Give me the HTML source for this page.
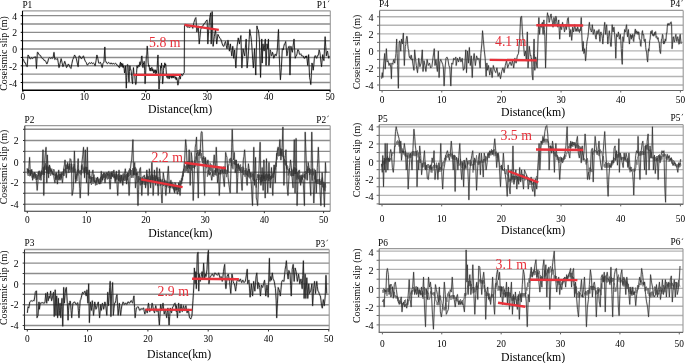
<!DOCTYPE html>
<html><head><meta charset="utf-8"><style>
html,body{margin:0;padding:0;background:#fff;width:685px;height:363px;overflow:hidden}
svg{display:block;font-family:"Liberation Serif",serif}
</style></head><body>
<svg width="685" height="363" viewBox="0 0 685 363" font-family="Liberation Serif, serif" fill="#000">
<defs><filter id="bl" x="0" y="0" width="100%" height="100%"><feGaussianBlur stdDeviation="0.35"/></filter></defs><g filter="url(#bl)"><rect width="685" height="363" fill="#fff"/><line x1="22.5" y1="82.53" x2="330.3" y2="82.53" stroke="#8c8c8c" stroke-width="1.4"/>
<line x1="20.7" y1="82.53" x2="22.5" y2="82.53" stroke="#000" stroke-width="1"/>
<line x1="22.5" y1="74.16" x2="330.3" y2="74.16" stroke="#8c8c8c" stroke-width="1.4"/>
<line x1="20.7" y1="74.16" x2="22.5" y2="74.16" stroke="#000" stroke-width="1"/>
<line x1="22.5" y1="65.8" x2="330.3" y2="65.8" stroke="#8c8c8c" stroke-width="1.4"/>
<line x1="20.7" y1="65.8" x2="22.5" y2="65.8" stroke="#000" stroke-width="1"/>
<line x1="22.5" y1="57.44" x2="330.3" y2="57.44" stroke="#8c8c8c" stroke-width="1.4"/>
<line x1="20.7" y1="57.44" x2="22.5" y2="57.44" stroke="#000" stroke-width="1"/>
<line x1="22.5" y1="49.07" x2="330.3" y2="49.07" stroke="#8c8c8c" stroke-width="1.4"/>
<line x1="20.7" y1="49.07" x2="22.5" y2="49.07" stroke="#000" stroke-width="1"/>
<line x1="22.5" y1="40.7" x2="330.3" y2="40.7" stroke="#8c8c8c" stroke-width="1.4"/>
<line x1="20.7" y1="40.7" x2="22.5" y2="40.7" stroke="#000" stroke-width="1"/>
<line x1="22.5" y1="32.34" x2="330.3" y2="32.34" stroke="#8c8c8c" stroke-width="1.4"/>
<line x1="20.7" y1="32.34" x2="22.5" y2="32.34" stroke="#000" stroke-width="1"/>
<line x1="22.5" y1="23.98" x2="330.3" y2="23.98" stroke="#8c8c8c" stroke-width="1.4"/>
<line x1="20.7" y1="23.98" x2="22.5" y2="23.98" stroke="#000" stroke-width="1"/>
<line x1="22.5" y1="15.61" x2="330.3" y2="15.61" stroke="#8c8c8c" stroke-width="1.4"/>
<line x1="20.7" y1="15.61" x2="22.5" y2="15.61" stroke="#000" stroke-width="1"/>
<line x1="22.5" y1="10.85" x2="330.3" y2="10.85" stroke="#9a9a9a" stroke-width="1.3"/>
<line x1="330.3" y1="10.85" x2="330.3" y2="90.3" stroke="#9a9a9a" stroke-width="1.1"/>
<path d="M22.68 58.62 L23.58 59.92 L24.47 62.56 L25.37 62.78 L26.26 65.45 L27.16 66.67 L28.05 55.04 L28.94 56.32 L29.84 58.62 L30.73 58.89 L31.63 57.57 L32.52 58.63 L33.42 57.73 L34.19 57.14 L34.97 57.39 L35.74 56.83 L36.46 68.46 L37.35 52.36 L38.13 52.55 L38.9 54.63 L39.68 55.04 L40.57 55.57 L41.47 57.67 L42.36 58.62 L43.26 58.73 L44.15 60.46 L45.04 60.41 L45.94 61.83 L46.83 63.99 L47.73 62.08 L48.62 58.62 L49.52 57.7 L50.41 58.52 L51.31 57.83 L52.2 58.45 L53.09 57.73 L53.99 52.36 L54.88 59.52 L55.78 58.45 L56.67 59.37 L57.57 58.62 L58.28 62.73 L59 67.57 L60.07 63.57 L61.14 58.62 L62.04 62.39 L62.93 66.67 L63.83 64.35 L64.72 61.31 L65.62 63.95 L66.51 67.57 L67.41 66.3 L68.3 63.99 L69.19 65.11 L70.09 67.34 L70.98 68.46 L71.88 63.63 L72.77 59.52 L73.67 57.78 L74.56 55.04 L75.46 56.43 L76.35 58.62 L77.25 62.9 L78.14 66.67 L79.03 55.94 L79.93 56.12 L80.82 58.28 L81.72 58.62 L82.61 56.68 L83.51 55.94 L84.4 58.97 L85.3 61.31 L86.19 62.3 L87.08 64.88 L87.98 64.71 L88.87 63.09 L89.77 62.79 L90.66 63.52 L91.56 62.45 L92.45 63.73 L93.35 63.09 L94.24 63.67 L95.13 65.78 L96.03 60.89 L96.92 55.04 L97.82 58.36 L98.71 63.09 L99.54 63.26 L100.37 62.2 L101.26 64.47 L102.16 67.57 L103.05 63.09 L103.94 62.2 L104.84 46.99 L105.38 60.41 L106.63 63.09 L107.52 63.66 L108.42 62.36 L109.31 63.09 L110.21 63.94 L111.1 62.84 L111.99 64.07 L112.89 63.63 L113.78 63.46 L114.68 64.19 L115.57 63.21 L116.47 63.99 L117.36 65.65 L118.26 66.04 L119.15 67.57 L119.6 67.56 L120.04 63.99 L120.49 62.15 L120.94 66.44 L121.39 63.2 L121.83 64.88 L122.28 66.69 L122.73 63.63 L123.18 67.75 L123.62 65.78 L124.07 67.63 L124.52 72.93 L124.96 70.85 L125.41 65.78 L125.86 75.29 L126.31 88.14 L126.75 77.35 L127.2 64.88 L127.65 64.47 L128.09 65.78 L128.54 75.89 L128.99 81.88 L129.44 71.26 L129.88 65.78 L130.33 69.43 L130.78 69.36 L131.23 71.44 L131.67 76.51 L132.12 81.18 L132.57 83.67 L133.01 73.92 L133.46 67.57 L133.91 73.71 L134.36 74.72 L134.8 76.12 L135.25 81.88 L135.7 84.53 L136.14 83.67 L136.59 72.38 L137.04 65.78 L137.49 67.88 L137.93 67.57 L138.38 64.96 L138.83 65.78 L139.28 66.5 L139.72 62.2 L140.17 61.71 L140.62 64.88 L141.03 63.52 L141.45 57.65 L141.87 55.94 L142.41 63.53 L142.94 67.57 L143.36 62.96 L143.78 64.18 L144.19 61.31 L144.64 70.28 L145.09 83.67 L145.54 76.1 L145.98 63.99 L146.4 55.63 L146.82 54.19 L147.24 46.1 L147.68 51.9 L148.13 62.2 L148.61 66.31 L149.08 65.17 L149.56 69.36 L150.01 70.69 L150.46 68.03 L150.9 71.05 L151.35 68.46 L151.8 67.31 L152.25 70.95 L152.69 68.78 L153.14 71.14 L153.59 72.81 L154.03 69.72 L154.48 72.55 L154.93 71.14 L155.38 69.83 L155.82 73.95 L156.27 70.59 L156.72 72.93 L157.13 68.58 L157.55 60.18 L157.97 55.04 L158.51 73.24 L159.04 89.03 L159.46 81.97 L159.88 78.95 L160.3 71.14 L160.71 66.11 L161.13 68.01 L161.55 63.09 L162.08 71.15 L162.62 83.67 L163.04 79.97 L163.46 70.5 L163.87 65.78 L164.32 67.64 L164.77 62.88 L165.21 65.37 L165.66 63.99 L166.11 69.44 L166.56 76.51 L167 77.54 L167.45 74.8 L167.9 78.42 L168.35 77.41 L168.79 76.2 L169.24 78.88 L169.69 75.33 L170.13 76.51 L170.65 77.39 L171.17 75.39 L171.69 78.17 L172.2 75.32 L172.72 77.65 L173.24 74.27 L173.76 77.93 L174.27 74.93 L174.79 76.26 L175.27 78.62 L175.75 76.88 L176.23 79.9 L176.71 77.59 L177.19 79.86 L177.9 85.13 L178.5 82.42 L179.1 77.46 L179.66 76.08 L180.22 79.08 L180.78 76.26 L181.38 73.96 L181.98 75.07 L182.57 75.63 L183.17 73.87 L184.25 72.67 L184.49 25.96 L184.85 24.77 L185.57 24.77 L186.37 24.99 L187.17 27.06 L187.96 27.16 L188.76 26.91 L189.56 27.41 L190.36 27.16 L191.56 25.96 L192.75 28.36 L193.95 22.37 L195.15 18.78 L195.87 17.58 L196.83 31.95 L197.54 28.64 L198.26 25.96 L199.22 43.93 L199.94 37.39 L200.66 29.56 L201.5 27.43 L202.34 25.96 L203.13 25.8 L203.93 23.75 L204.73 23.57 L205.93 21.17 L207.13 19.98 L207.84 43.93 L208.8 28.36 L209.76 17.58 L210.72 12.79 L211.2 43.93 L212.16 11.59 L213.11 46.32 L214.31 36.74 L215.51 29.56 L216.71 43.93 L217.9 34.35 L219.1 36.74 L219.94 38.49 L220.78 39.14 L221.5 41.17 L222.22 43.93 L223.05 45.91 L223.89 46.32 L224.73 43.24 L225.57 41.53 L226.29 45.66 L227.01 48.72 L227.96 40.34 L228.68 45.36 L229.4 51.11 L230.36 43.93 L231.08 50.52 L231.8 55.9 L232.75 46.32 L233.71 58.3 L234.67 49.92 L235.87 67.88 L237.07 46.32 L238.26 37.94 L239.46 43.93 L240.18 39.28 L240.9 35.54 L241.86 67.88 L243.05 48.72 L243.89 52.87 L244.73 55.9 L245.45 47.1 L246.17 39.14 L247.13 67.88 L247.84 60.54 L248.56 51.11 L249.17 39.84 L249.78 29.53 L250.38 33.83 L250.98 36.71 L251.58 42.52 L252.18 51.06 L252.78 60.71 L253.37 67.81 L253.97 57.52 L254.57 48.67 L255.17 63.09 L255.77 74.99 L256.36 49.74 L256.96 25.94 L257.56 29.08 L258.16 29.53 L258.76 33.17 L259.35 39.1 L259.95 59.07 L260.55 77.38 L261.15 57.57 L261.75 39.1 L262.22 63.02 L262.94 43.89 L263.54 47.9 L264.14 51.06 L264.74 43.8 L265.33 39.1 L266.05 65.42 L267.01 43.89 L267.73 48.67 L268.44 39.1 L268.92 65.42 L269.52 58.1 L270.12 49.87 L270.72 51.63 L271.32 55.85 L271.91 55.42 L272.51 52.26 L273.11 54.27 L273.71 58.24 L274.31 57.03 L274.9 54.65 L275.5 53.98 L276.1 55.85 L276.7 54.23 L277.3 49.87 L277.89 38.59 L278.49 29.53 L279.21 54.65 L279.81 68.13 L280.41 79.77 L281.36 67.81 L282.32 48.67 L283.28 49.87 L283.88 46.09 L284.47 43.89 L285.07 43.45 L285.67 41.49 L286.27 48.05 L286.87 55.85 L287.46 53.34 L288.06 48.67 L288.66 46.63 L289.26 46.28 L289.98 74.99 L290.93 46.28 L291.65 49.88 L292.37 52.26 L293.21 45.16 L294.04 39.1 L294.64 49.74 L295.24 58.24 L295.84 56.33 L296.44 55.85 L297.03 53.77 L297.63 49.87 L298.23 49.73 L298.83 51.06 L299.43 54.13 L300.02 54.65 L300.82 53.75 L301.62 55.89 L302.42 55.85 L303.21 56.03 L304.01 58.18 L304.81 58.24 L305.45 56.05 L306.08 57.83 L306.72 55.85 L307.68 65.42 L308.64 54.65 L309.59 77.38 L310.19 80.21 L310.79 84.56 L311.39 74.42 L311.99 63.02 L312.58 65.53 L313.18 70.2 L313.78 65.46 L314.38 58.24 L314.98 55.71 L315.57 55.85 L316.17 57.8 L316.77 58.24 L317.37 55.76 L317.97 55.85 L318.56 53.95 L319.16 49.87 L319.76 51.96 L320.36 55.85 L320.96 62.62 L321.56 66.61 L322.15 59.98 L322.75 54.65 L323.35 58.77 L323.95 60.63 L324.55 48.17 L325.14 36.71 L325.74 46.86 L326.34 55.85 L326.94 52.14 L327.54 51.06 L328.13 55.28 L328.73 58.24 L329.21 55.85" fill="none" stroke="#000" stroke-opacity="0.1" stroke-width="2.0" stroke-linejoin="round"/>
<path d="M22.68 58.62 L23.58 59.92 L24.47 62.56 L25.37 62.78 L26.26 65.45 L27.16 66.67 L28.05 55.04 L28.94 56.32 L29.84 58.62 L30.73 58.89 L31.63 57.57 L32.52 58.63 L33.42 57.73 L34.19 57.14 L34.97 57.39 L35.74 56.83 L36.46 68.46 L37.35 52.36 L38.13 52.55 L38.9 54.63 L39.68 55.04 L40.57 55.57 L41.47 57.67 L42.36 58.62 L43.26 58.73 L44.15 60.46 L45.04 60.41 L45.94 61.83 L46.83 63.99 L47.73 62.08 L48.62 58.62 L49.52 57.7 L50.41 58.52 L51.31 57.83 L52.2 58.45 L53.09 57.73 L53.99 52.36 L54.88 59.52 L55.78 58.45 L56.67 59.37 L57.57 58.62 L58.28 62.73 L59 67.57 L60.07 63.57 L61.14 58.62 L62.04 62.39 L62.93 66.67 L63.83 64.35 L64.72 61.31 L65.62 63.95 L66.51 67.57 L67.41 66.3 L68.3 63.99 L69.19 65.11 L70.09 67.34 L70.98 68.46 L71.88 63.63 L72.77 59.52 L73.67 57.78 L74.56 55.04 L75.46 56.43 L76.35 58.62 L77.25 62.9 L78.14 66.67 L79.03 55.94 L79.93 56.12 L80.82 58.28 L81.72 58.62 L82.61 56.68 L83.51 55.94 L84.4 58.97 L85.3 61.31 L86.19 62.3 L87.08 64.88 L87.98 64.71 L88.87 63.09 L89.77 62.79 L90.66 63.52 L91.56 62.45 L92.45 63.73 L93.35 63.09 L94.24 63.67 L95.13 65.78 L96.03 60.89 L96.92 55.04 L97.82 58.36 L98.71 63.09 L99.54 63.26 L100.37 62.2 L101.26 64.47 L102.16 67.57 L103.05 63.09 L103.94 62.2 L104.84 46.99 L105.38 60.41 L106.63 63.09 L107.52 63.66 L108.42 62.36 L109.31 63.09 L110.21 63.94 L111.1 62.84 L111.99 64.07 L112.89 63.63 L113.78 63.46 L114.68 64.19 L115.57 63.21 L116.47 63.99 L117.36 65.65 L118.26 66.04 L119.15 67.57 L119.6 67.56 L120.04 63.99 L120.49 62.15 L120.94 66.44 L121.39 63.2 L121.83 64.88 L122.28 66.69 L122.73 63.63 L123.18 67.75 L123.62 65.78 L124.07 67.63 L124.52 72.93 L124.96 70.85 L125.41 65.78 L125.86 75.29 L126.31 88.14 L126.75 77.35 L127.2 64.88 L127.65 64.47 L128.09 65.78 L128.54 75.89 L128.99 81.88 L129.44 71.26 L129.88 65.78 L130.33 69.43 L130.78 69.36 L131.23 71.44 L131.67 76.51 L132.12 81.18 L132.57 83.67 L133.01 73.92 L133.46 67.57 L133.91 73.71 L134.36 74.72 L134.8 76.12 L135.25 81.88 L135.7 84.53 L136.14 83.67 L136.59 72.38 L137.04 65.78 L137.49 67.88 L137.93 67.57 L138.38 64.96 L138.83 65.78 L139.28 66.5 L139.72 62.2 L140.17 61.71 L140.62 64.88 L141.03 63.52 L141.45 57.65 L141.87 55.94 L142.41 63.53 L142.94 67.57 L143.36 62.96 L143.78 64.18 L144.19 61.31 L144.64 70.28 L145.09 83.67 L145.54 76.1 L145.98 63.99 L146.4 55.63 L146.82 54.19 L147.24 46.1 L147.68 51.9 L148.13 62.2 L148.61 66.31 L149.08 65.17 L149.56 69.36 L150.01 70.69 L150.46 68.03 L150.9 71.05 L151.35 68.46 L151.8 67.31 L152.25 70.95 L152.69 68.78 L153.14 71.14 L153.59 72.81 L154.03 69.72 L154.48 72.55 L154.93 71.14 L155.38 69.83 L155.82 73.95 L156.27 70.59 L156.72 72.93 L157.13 68.58 L157.55 60.18 L157.97 55.04 L158.51 73.24 L159.04 89.03 L159.46 81.97 L159.88 78.95 L160.3 71.14 L160.71 66.11 L161.13 68.01 L161.55 63.09 L162.08 71.15 L162.62 83.67 L163.04 79.97 L163.46 70.5 L163.87 65.78 L164.32 67.64 L164.77 62.88 L165.21 65.37 L165.66 63.99 L166.11 69.44 L166.56 76.51 L167 77.54 L167.45 74.8 L167.9 78.42 L168.35 77.41 L168.79 76.2 L169.24 78.88 L169.69 75.33 L170.13 76.51 L170.65 77.39 L171.17 75.39 L171.69 78.17 L172.2 75.32 L172.72 77.65 L173.24 74.27 L173.76 77.93 L174.27 74.93 L174.79 76.26 L175.27 78.62 L175.75 76.88 L176.23 79.9 L176.71 77.59 L177.19 79.86 L177.9 85.13 L178.5 82.42 L179.1 77.46 L179.66 76.08 L180.22 79.08 L180.78 76.26 L181.38 73.96 L181.98 75.07 L182.57 75.63 L183.17 73.87 L184.25 72.67 L184.49 25.96 L184.85 24.77 L185.57 24.77 L186.37 24.99 L187.17 27.06 L187.96 27.16 L188.76 26.91 L189.56 27.41 L190.36 27.16 L191.56 25.96 L192.75 28.36 L193.95 22.37 L195.15 18.78 L195.87 17.58 L196.83 31.95 L197.54 28.64 L198.26 25.96 L199.22 43.93 L199.94 37.39 L200.66 29.56 L201.5 27.43 L202.34 25.96 L203.13 25.8 L203.93 23.75 L204.73 23.57 L205.93 21.17 L207.13 19.98 L207.84 43.93 L208.8 28.36 L209.76 17.58 L210.72 12.79 L211.2 43.93 L212.16 11.59 L213.11 46.32 L214.31 36.74 L215.51 29.56 L216.71 43.93 L217.9 34.35 L219.1 36.74 L219.94 38.49 L220.78 39.14 L221.5 41.17 L222.22 43.93 L223.05 45.91 L223.89 46.32 L224.73 43.24 L225.57 41.53 L226.29 45.66 L227.01 48.72 L227.96 40.34 L228.68 45.36 L229.4 51.11 L230.36 43.93 L231.08 50.52 L231.8 55.9 L232.75 46.32 L233.71 58.3 L234.67 49.92 L235.87 67.88 L237.07 46.32 L238.26 37.94 L239.46 43.93 L240.18 39.28 L240.9 35.54 L241.86 67.88 L243.05 48.72 L243.89 52.87 L244.73 55.9 L245.45 47.1 L246.17 39.14 L247.13 67.88 L247.84 60.54 L248.56 51.11 L249.17 39.84 L249.78 29.53 L250.38 33.83 L250.98 36.71 L251.58 42.52 L252.18 51.06 L252.78 60.71 L253.37 67.81 L253.97 57.52 L254.57 48.67 L255.17 63.09 L255.77 74.99 L256.36 49.74 L256.96 25.94 L257.56 29.08 L258.16 29.53 L258.76 33.17 L259.35 39.1 L259.95 59.07 L260.55 77.38 L261.15 57.57 L261.75 39.1 L262.22 63.02 L262.94 43.89 L263.54 47.9 L264.14 51.06 L264.74 43.8 L265.33 39.1 L266.05 65.42 L267.01 43.89 L267.73 48.67 L268.44 39.1 L268.92 65.42 L269.52 58.1 L270.12 49.87 L270.72 51.63 L271.32 55.85 L271.91 55.42 L272.51 52.26 L273.11 54.27 L273.71 58.24 L274.31 57.03 L274.9 54.65 L275.5 53.98 L276.1 55.85 L276.7 54.23 L277.3 49.87 L277.89 38.59 L278.49 29.53 L279.21 54.65 L279.81 68.13 L280.41 79.77 L281.36 67.81 L282.32 48.67 L283.28 49.87 L283.88 46.09 L284.47 43.89 L285.07 43.45 L285.67 41.49 L286.27 48.05 L286.87 55.85 L287.46 53.34 L288.06 48.67 L288.66 46.63 L289.26 46.28 L289.98 74.99 L290.93 46.28 L291.65 49.88 L292.37 52.26 L293.21 45.16 L294.04 39.1 L294.64 49.74 L295.24 58.24 L295.84 56.33 L296.44 55.85 L297.03 53.77 L297.63 49.87 L298.23 49.73 L298.83 51.06 L299.43 54.13 L300.02 54.65 L300.82 53.75 L301.62 55.89 L302.42 55.85 L303.21 56.03 L304.01 58.18 L304.81 58.24 L305.45 56.05 L306.08 57.83 L306.72 55.85 L307.68 65.42 L308.64 54.65 L309.59 77.38 L310.19 80.21 L310.79 84.56 L311.39 74.42 L311.99 63.02 L312.58 65.53 L313.18 70.2 L313.78 65.46 L314.38 58.24 L314.98 55.71 L315.57 55.85 L316.17 57.8 L316.77 58.24 L317.37 55.76 L317.97 55.85 L318.56 53.95 L319.16 49.87 L319.76 51.96 L320.36 55.85 L320.96 62.62 L321.56 66.61 L322.15 59.98 L322.75 54.65 L323.35 58.77 L323.95 60.63 L324.55 48.17 L325.14 36.71 L325.74 46.86 L326.34 55.85 L326.94 52.14 L327.54 51.06 L328.13 55.28 L328.73 58.24 L329.21 55.85" fill="none" stroke="#111" stroke-width="0.85" stroke-linejoin="round"/>
<line x1="22.5" y1="10.85" x2="22.5" y2="90.3" stroke="#000" stroke-width="1.1"/>
<line x1="22" y1="90.3" x2="330.3" y2="90.3" stroke="#000" stroke-width="1.5"/>
<line x1="22.9" y1="90.3" x2="22.9" y2="92.3" stroke="#000" stroke-width="1"/>
<text x="22.9" y="99.9" text-anchor="middle" font-size="9.4">0</text>
<line x1="84.34" y1="90.3" x2="84.34" y2="92.3" stroke="#000" stroke-width="1"/>
<text x="84.34" y="99.9" text-anchor="middle" font-size="9.4">10</text>
<line x1="145.78" y1="90.3" x2="145.78" y2="92.3" stroke="#000" stroke-width="1"/>
<text x="145.78" y="99.9" text-anchor="middle" font-size="9.4">20</text>
<line x1="207.22" y1="90.3" x2="207.22" y2="92.3" stroke="#000" stroke-width="1"/>
<text x="207.22" y="99.9" text-anchor="middle" font-size="9.4">30</text>
<line x1="268.66" y1="90.3" x2="268.66" y2="92.3" stroke="#000" stroke-width="1"/>
<text x="268.66" y="99.9" text-anchor="middle" font-size="9.4">40</text>
<line x1="330.1" y1="90.3" x2="330.1" y2="92.3" stroke="#000" stroke-width="1"/>
<text x="330.1" y="99.9" text-anchor="middle" font-size="9.4">50</text>
<text x="17" y="19.61" text-anchor="end" font-size="9.7">4</text>
<text x="17" y="36.34" text-anchor="end" font-size="9.7">2</text>
<text x="17" y="53.07" text-anchor="end" font-size="9.7">0</text>
<text x="17" y="69.8" text-anchor="end" font-size="9.7">-2</text>
<text x="17" y="86.53" text-anchor="end" font-size="9.7">-4</text>
<text x="180.1" y="113.3" text-anchor="middle" font-size="11.8">Distance(km)</text>
<text transform="translate(7,53.5) rotate(-90)" text-anchor="middle" font-size="9.9">Coseismic slip (m)</text>
<text x="22.4" y="7.6" font-size="9.4">P1</text>
<text x="316.8" y="7.5" font-size="9.4">P1</text>
<line x1="328.2" y1="2.2" x2="329" y2="0.6" stroke="#333" stroke-width="0.8"/>
<line x1="24.8" y1="204.3" x2="330.2" y2="204.3" stroke="#8c8c8c" stroke-width="1.4"/>
<line x1="23" y1="204.3" x2="24.8" y2="204.3" stroke="#333" stroke-width="1"/>
<line x1="24.8" y1="193.3" x2="330.2" y2="193.3" stroke="#8c8c8c" stroke-width="1.4"/>
<line x1="23" y1="193.3" x2="24.8" y2="193.3" stroke="#333" stroke-width="1"/>
<line x1="24.8" y1="182.7" x2="330.2" y2="182.7" stroke="#8c8c8c" stroke-width="1.4"/>
<line x1="23" y1="182.7" x2="24.8" y2="182.7" stroke="#333" stroke-width="1"/>
<line x1="24.8" y1="172.3" x2="330.2" y2="172.3" stroke="#8c8c8c" stroke-width="1.4"/>
<line x1="23" y1="172.3" x2="24.8" y2="172.3" stroke="#333" stroke-width="1"/>
<line x1="24.8" y1="161.9" x2="330.2" y2="161.9" stroke="#8c8c8c" stroke-width="1.4"/>
<line x1="23" y1="161.9" x2="24.8" y2="161.9" stroke="#333" stroke-width="1"/>
<line x1="24.8" y1="151.4" x2="330.2" y2="151.4" stroke="#8c8c8c" stroke-width="1.4"/>
<line x1="23" y1="151.4" x2="24.8" y2="151.4" stroke="#333" stroke-width="1"/>
<line x1="24.8" y1="140.5" x2="330.2" y2="140.5" stroke="#8c8c8c" stroke-width="1.4"/>
<line x1="23" y1="140.5" x2="24.8" y2="140.5" stroke="#333" stroke-width="1"/>
<line x1="24.8" y1="129.3" x2="330.2" y2="129.3" stroke="#8c8c8c" stroke-width="1.4"/>
<line x1="23" y1="129.3" x2="24.8" y2="129.3" stroke="#333" stroke-width="1"/>
<line x1="24.8" y1="125.7" x2="330.2" y2="125.7" stroke="#9a9a9a" stroke-width="1.3"/>
<line x1="330.2" y1="125.7" x2="330.2" y2="211.2" stroke="#9a9a9a" stroke-width="1.1"/>
<path d="M27 168.06 L27.4 174.32 L27.8 168.86 L28.2 176.01 L28.6 169.63 L29 173.3 L29.4 170.11 L29.8 176.37 L30.2 170.2 L30.6 175.88 L31 169.69 L31.4 173.76 L31.8 169.1 L32.2 177.67 L32.6 171.36 L33 176.83 L33.4 173.53 L33.8 178.55 L34.2 172.23 L34.6 178.41 L35 172.66 L35.4 177.79 L35.8 173.98 L36.2 179.99 L36.6 174.2 L37 179.94 L37.4 175.08 L37.8 179.07 L38.2 171.83 L38.6 175.5 L39 171.71 L39.4 179.83 L39.8 172.3 L40.2 177.27 L40.6 172.64 L41 175.89 L41.4 170.5 L41.8 173.91 L42.2 171.01 L42.6 174.73 L43 166.76 L43.4 174.45 L43.8 167.6 L44.2 174.99 L44.6 165.73 L45 169.91 L45.4 163.22 L45.8 169.45 L46.2 166.43 L46.6 171.17 L47 165.44 L47.4 173.22 L47.8 167.25 L48.2 173.88 L48.6 166.71 L49 174.02 L49.4 165.75 L49.8 172.46 L50.2 167.79 L50.6 175.76 L51 168.88 L51.4 173.8 L51.8 168.54 L52.2 175.21 L52.6 171.49 L53 174.65 L53.4 169.14 L53.8 175 L54.2 169.48 L54.6 175.58 L55 173.36 L55.4 179.53 L55.8 173.95 L56.2 179.77 L56.6 173.05 L57 178.15 L57.4 175.4 L57.8 179.58 L58.2 174.62 L58.6 180.15 L59 173.87 L59.4 178.88 L59.8 173.69 L60.2 176.75 L60.6 173.93 L61 179.38 L61.4 174.44 L61.8 177.75 L62.2 171.72 L62.6 175.1 L63 171.63 L63.4 175.88 L63.8 168.7 L64.2 175.87 L64.6 169.24 L65 173.4 L65.4 167.68 L65.8 171.86 L66.2 164.75 L66.6 168.95 L67 164.6 L67.4 168.82 L67.8 164.2 L68.2 168.46 L68.6 166.17 L69 168.78 L69.4 163.61 L69.8 169.86 L70.2 166.52 L70.6 171.99 L71 163.77 L71.4 169.33 L71.8 164.21 L72.2 171.92 L72.6 167.56 L73 171.94 L73.4 166.45 L73.8 172.22 L74.2 164 L74.6 171.88 L75 168.69 L75.4 179.12 L75.8 175.84 L76.2 179.08 L76.6 173.49 L77 180.96 L77.4 170.09 L77.8 175.46 L78.2 168.85 L78.6 172.57 L79 170.35 L79.4 173.36 L79.8 170.9 L80.2 173.63 L80.6 170.31 L81 175.22 L81.4 165.59 L81.8 173.54 L82.2 164.36 L82.6 169.63 L83 166.64 L83.4 172.03 L83.8 168.41 L84.2 173.73 L84.6 167.73 L85 172.53 L85.4 166.7 L85.8 171.81 L86.2 167.15 L86.6 174.55 L87 166.88 L87.4 174.28 L87.8 169.77 L88.2 174.65 L88.6 172.43 L89 178.21 L89.4 173.9 L89.8 178.82 L90.2 176.18 L90.6 178.74 L91 177.52 L91.4 185 L91.8 177.05 L92.2 181.74 L92.6 177.03 L93 183.93 L93.4 176.9 L93.8 181.82 L94.2 174.62 L94.6 182.55 L95 177.53 L95.4 185.46 L95.8 180.07 L96.2 185.1 L96.6 178 L97 185.05 L97.4 177.06 L97.8 181.83 L98.2 179.82 L98.6 183.29 L99 178.86 L99.4 183.36 L99.8 178.59 L100.2 184.11 L100.6 177.17 L101 183.74 L101.4 175.97 L101.8 182.07 L102.2 174.71 L102.6 180.04 L103 173.95 L103.4 178.25 L103.8 175.65 L104.2 177.72 L104.6 172.89 L105 176.76 L105.4 173.59 L105.8 179.19 L106.2 175.12 L106.6 177.8 L107 174.27 L107.4 179.49 L107.8 172.52 L108.2 178.82 L108.6 174.09 L109 178.65 L109.4 173.33 L109.8 176.42 L110.2 172.06 L110.6 179.03 L111 171.58 L111.4 178.82 L111.8 171.3 L112.2 176.39 L112.6 171.54 L113 177.1 L113.4 174.42 L113.8 178.23 L114.2 173.42 L114.6 177.81 L115 175.63 L115.4 180.9 L115.8 173.52 L116.2 179.19 L116.6 174.02 L117 179.83 L117.4 175.14 L117.8 178.66 L118.2 173.92 L118.6 180.99 L119 178.09 L119.4 181.57 L119.8 175.65 L120.2 179.09 L120.6 174.74 L121 181.65 L121.4 176.64 L121.8 181.18 L122.2 174.79 L122.6 182.71 L123 173.5 L123.4 179.93 L123.8 173.39 L124.2 180.86 L124.6 175.78 L125 181.13 L125.4 175.19 L125.8 179.94 L126.2 174.09 L126.6 181.46 L127 173.69 L127.4 180.09 L127.8 172.97 L128.2 177.01 L128.6 170.47 L129 176.03 L129.4 168.5 L129.8 173.33 L130.2 168.92 L130.6 174.97 L131 170.09 L131.4 177.92 L131.8 170.09 L132.2 176.5 L132.6 168.25 L133 178.01 L133.4 171.09 L133.8 175.15 L134.2 168.33 L134.6 174.79 L135 166.85 L135.4 175.44 L135.8 167.8 L136.2 174.68 L136.6 169.17 L137 174.99 L137.4 171.79 L137.8 182.48 L138.2 175.98 L138.6 181.83 L139 176.4 L139.4 180.04 L139.8 178.26 L140.2 185.29 L140.6 177.27 L141 185.24 L141.4 178.42 L141.8 184.06 L142.2 177.21 L142.6 183.9 L143 178.56 L143.4 182.73 L143.8 178.64 L144.2 184.93 L144.6 179.04 L145 181.86 L145.4 177.49 L145.8 185.21 L146.2 177.73 L146.6 182.57 L147 174.36 L147.4 181.31 L147.8 176.01 L148.2 180.76 L148.6 176.5 L149 181.95 L149.4 178.99 L149.8 182.62 L150.2 175.48 L150.6 181.12 L151 176.51 L151.4 180.12 L151.8 173.74 L152.2 180.02 L152.6 175.12 L153 180.71 L153.4 176.93 L153.8 180.13 L154.2 174.89 L154.6 181.49 L155 176.37 L155.4 180.75 L155.8 175.56 L156.2 179.01 L156.6 175.62 L157 183.19 L157.4 177.37 L157.8 186.14 L158.2 178.81 L158.6 182.97 L159 177.13 L159.4 182.29 L159.8 179.32 L160.2 185.79 L160.6 179.09 L161 185.27 L161.4 180.16 L161.8 184.29 L162.2 178.89 L162.6 184.76 L163 182.07 L163.4 186.04 L163.8 181.11 L164.2 185.26 L164.6 179.83 L165 183.69 L165.4 180.67 L165.8 186.86 L166.2 180.64 L166.6 187.52 L167 182.27 L167.4 186.25 L167.8 181.5 L168.2 185.44 L168.6 182.95 L169 187.98 L169.4 183.11 L169.8 186.88 L170.2 181.72 L170.6 188.01 L171 183.36 L171.4 187.25 L171.8 182.92 L172.2 188.61 L172.6 181.91 L173 187.83 L173.4 183.64 L173.8 189.48 L174.2 185.18 L174.6 191.97 L175 185.34 L175.4 190.45 L175.8 185.39 L176.2 189.59 L176.6 185.46 L177 189.85 L177.4 186.5 L177.8 189.58 L178.2 185.92 L178.6 191.69 L179 183.66 L179.4 188.56 L179.8 180.46 L180.2 187.17 L180.6 181.17 L181 184.17 L181.4 178.14 L181.8 183.8 L182.2 175.55 L182.6 180.54 L183 171.31 L183.4 176.38 L183.8 169.06 L184.2 172.47 L184.6 164.69 L185 171.95 L185.4 166.03 L185.8 171.52 L186.2 165.43 L186.6 171.27 L187 163.52 L187.4 168.76 L187.8 161.02 L188.2 166.63 L188.6 163.09 L189 168 L189.4 162.11 L189.8 168.84 L190.2 164.75 L190.6 165.52 L191 162.94 L191.4 170.67 L191.8 160.61 L192.2 163.42 L192.6 160.82 L193 168.06 L193.4 163.28 L193.8 167.59 L194.2 164.66 L194.6 168.49 L195 160.02 L195.4 166.68 L195.8 156.55 L196.2 159.51 L196.6 153.14 L197 160.97 L197.4 150.48 L197.8 154.03 L198.2 149.99 L198.6 155.91 L199 151.16 L199.4 155.28 L199.8 149.42 L200.2 155.91 L200.6 149.71 L201 158.36 L201.4 153.19 L201.8 160.64 L202.2 157.56 L202.6 162.93 L203 157.61 L203.4 159.06 L203.8 156.1 L204.2 163.39 L204.6 157.83 L205 165.88 L205.4 159.68 L205.8 166.88 L206.2 164.21 L206.6 168.19 L207 167.03 L207.4 176.73 L207.8 170.66 L208.2 173.76 L208.6 169.87 L209 174.61 L209.4 165.03 L209.8 169.76 L210.2 162.77 L210.6 170.97 L211 164.12 L211.4 171.81 L211.8 167.6 L212.2 170.02 L212.6 170.24 L213 175.9 L213.4 171.7 L213.8 176.91 L214.2 170.31 L214.6 175.12 L215 170.49 L215.4 175.02 L215.8 171.37 L216.2 175.68 L216.6 167.62 L217 171.59 L217.4 166.5 L217.8 171.79 L218.2 168.88 L218.6 172.97 L219 167.79 L219.4 174.42 L219.8 168.82 L220.2 174.23 L220.6 170.24 L221 174.29 L221.4 169.87 L221.8 173.33 L222.2 170.41 L222.6 172.95 L223 169.15 L223.4 173.83 L223.8 166.35 L224.2 172.64 L224.6 168.13 L225 173.68 L225.4 166.74 L225.8 174.14 L226.2 169.72 L226.6 177.16 L227 170.21 L227.4 173.63 L227.8 165.57 L228.2 172.4 L228.6 164.5 L229 165.3 L229.4 158.97 L229.8 162.99 L230.2 158.26 L230.6 162.22 L231 157.77 L231.4 166.18 L231.8 159.67 L232.2 168.24 L232.6 160.44 L233 169.32 L233.4 161.02 L233.8 163.86 L234.2 161.91 L234.6 164.37 L235 159.82 L235.4 165.07 L235.8 160.5 L236.2 165.34 L236.6 163.95 L237 168.13 L237.4 164.34 L237.8 171.27 L238.2 163.73 L238.6 169.21 L239 164.94 L239.4 170.88 L239.8 166.36 L240.2 170.26 L240.6 164.41 L241 171.59 L241.4 167.07 L241.8 172.9 L242.2 169.76 L242.6 172.38 L243 166.54 L243.4 174.75 L243.8 167.81 L244.2 175.25 L244.6 170.39 L245 176.84 L245.4 170.07 L245.8 174.36 L246.2 168.3 L246.6 175.21 L247 170.56 L247.4 175.87 L247.8 171.2 L248.2 176.84 L248.6 169.02 L249 177.44 L249.4 169.12 L249.8 178.41 L250.2 172.09 L250.6 175.32 L251 172.89 L251.4 177.38 L251.8 172.17 L252.2 176.53 L252.6 173.58 L253 179.62 L253.4 173.34 L253.8 181.18 L254.2 178.73 L254.6 180.47 L255 179.8 L255.4 181.16 L255.8 180.81 L256.2 187.56 L256.6 178.95 L257 180.04 L257.4 174.31 L257.8 178.11 L258.2 174.64 L258.6 181.53 L259 174.49 L259.4 180.03 L259.8 174.76 L260.2 182.62 L260.6 177.07 L261 183.31 L261.4 174.77 L261.8 182 L262.2 174.79 L262.6 181.18 L263 175.56 L263.4 179.08 L263.8 172.82 L264.2 180.79 L264.6 175.77 L265 178.27 L265.4 174.49 L265.8 181.24 L266.2 173.41 L266.6 180.02 L267 173.58 L267.4 178.18 L267.8 174.85 L268.2 180.7 L268.6 174.49 L269 181.28 L269.4 174.07 L269.8 178.94 L270.2 176 L270.6 180.12 L271 175.86 L271.4 178.89 L271.8 175.25 L272.2 178.27 L272.6 173.35 L273 177.35 L273.4 172.53 L273.8 173.69 L274.2 167.68 L274.6 172.46 L275 164.88 L275.4 169.54 L275.8 162.2 L276.2 166.72 L276.6 153.29 L277 159.63 L277.4 152.67 L277.8 155.89 L278.2 148.6 L278.6 156.34 L279 149.85 L279.4 156.03 L279.8 150.4 L280.2 155.74 L280.6 148.42 L281 153.54 L281.4 149.53 L281.8 156.1 L282.2 148.87 L282.6 156.6 L283 152.08 L283.4 158.42 L283.8 155.8 L284.2 162.04 L284.6 158.98 L285 164.69 L285.4 160.54 L285.8 165.52 L286.2 161.22 L286.6 168.65 L287 164.98 L287.4 169.74 L287.8 166.41 L288.2 175.54 L288.6 169.28 L289 173.32 L289.4 168.08 L289.8 172.15 L290.2 171.21 L290.6 175.64 L291 171.63 L291.4 176.37 L291.8 168.68 L292.2 175.91 L292.6 170.4 L293 176.04 L293.4 169.12 L293.8 175.71 L294.2 167.26 L294.6 174.04 L295 168.1 L295.4 173.91 L295.8 171.2 L296.2 173.84 L296.6 168.73 L297 179.58 L297.4 172.12 L297.8 177.67 L298.2 172.52 L298.6 179.16 L299 176.1 L299.4 182.83 L299.8 175.27 L300.2 180.47 L300.6 175.56 L301 182.28 L301.4 177.42 L301.8 182.88 L302.2 174.54 L302.6 179.41 L303 172.41 L303.4 177.18 L303.8 174.72 L304.2 178.1 L304.6 174.19 L305 178.19 L305.4 171.26 L305.8 179.45 L306.2 172.1 L306.6 173.91 L307 168.82 L307.4 172.59 L307.8 166.33 L308.2 170.54 L308.6 168.59 L309 173.01 L309.4 168.11 L309.8 174.84 L310.2 169.34 L310.6 173.34 L311 169.38 L311.4 174.79 L311.8 174.47 L312.2 180.57 L312.6 168.52 L313 175.56 L313.4 171.54 L313.8 174.42 L314.2 168.69 L314.6 179.35 L315 175.6 L315.4 182.39 L315.8 171.99 L316.2 182.3 L316.6 179.6 L317 183.94 L317.4 179.34 L317.8 184 L318.2 179.46 L318.6 184.14 L319 178.86 L319.4 184.22 L319.8 179.01 L320.2 184.88 L320.6 181.07 L321 184.98 L321.4 179.8 L321.8 184.14 L322.2 177.63 L322.6 187.24 L323 182.25 L323.4 188.04 L323.8 181.83 L324.2 190.22 L324.6 183.23 L325 191.27 L325.4 183.11 L325.8 187.64" fill="none" stroke="#606060" stroke-width="0.8" stroke-linejoin="round"/>
<path d="M27.06 168.84 L27.7 169.28 L28.33 172.63 L28.96 166.48 L29.59 157.44 L30.35 175.16 L30.99 172.12 L31.62 170.1 L32.13 175.7 L32.63 180.23 L33.14 176.37 L33.65 176.39 L34.15 172.63 L34.74 172.75 L35.33 175.94 L35.92 176.43 L36.56 182.31 L37.19 190.35 L37.82 182.58 L38.46 172.63 L39.09 170.94 L39.72 171.37 L40.35 176.41 L40.99 180.23 L41.62 173 L42.25 167.57 L43.01 149.85 L43.77 195.42 L44.28 178.56 L44.78 159.97 L45.42 152.44 L46.05 147.32 L46.81 182.76 L47.32 154.91 L47.95 167.8 L48.58 177.7 L49.34 165.04 L49.85 166.12 L50.35 170.1 L50.86 171.54 L51.37 170.03 L51.87 171.37 L52.46 173.36 L53.05 173.41 L53.65 175.16 L54.28 179.44 L54.91 182.76 L55.54 176.76 L56.18 172.63 L56.81 179.11 L57.44 184.03 L58.08 176.21 L58.71 170.1 L59.34 176.55 L59.97 180.23 L60.61 175.43 L61.24 172.63 L61.87 178.73 L62.51 182.76 L63.14 175.1 L63.77 168.84 L64.41 164.88 L65.04 159.97 L65.67 168.04 L66.3 177.7 L66.94 170.69 L67.57 162.51 L68.2 166.58 L68.84 172.63 L69.47 167.17 L70.1 158.71 L70.73 159.45 L71.37 162.51 L72.13 195.42 L72.76 192.26 L73.39 187.82 L73.9 168.08 L74.41 151.11 L75.04 168.22 L75.67 182.76 L76.18 178.16 L76.68 177.41 L77.19 172.63 L77.7 164.42 L78.2 158.71 L78.71 170.75 L79.22 180.23 L79.72 188.27 L80.23 197.95 L80.73 186.77 L81.24 172.63 L81.75 164.84 L82.25 159.97 L82.89 154.26 L83.52 147.32 L84.03 161.26 L84.53 177.7 L85.29 149.85 L85.92 167.5 L86.56 182.76 L87.32 147.32 L87.82 170.43 L88.33 195.42 L88.84 183.77 L89.34 170.1 L89.85 175.47 L90.35 182.76 L90.99 181.65 L91.62 177.7 L92.25 172.92 L92.89 170.1 L93.52 177.12 L94.15 181.49 L94.78 181.3 L95.42 182.76 L96.05 182.87 L96.68 180.23 L97.32 177.57 L97.95 177.7 L98.58 181.79 L99.22 184.03 L99.85 182.35 L100.48 182.76 L101.27 171.37 L101.9 177.21 L102.53 180.23 L103.16 175.22 L103.8 172.63 L104.43 178.66 L105.06 182.76 L105.7 177.01 L106.33 172.63 L106.96 174.69 L107.59 175.16 L108.23 172.08 L108.86 171.37 L109.49 180.85 L110.13 189.09 L110.76 179.46 L111.39 172.63 L112.03 175.26 L112.66 176.43 L113.29 171.86 L113.92 170.1 L114.56 177.21 L115.19 182.76 L115.82 175.61 L116.46 171.37 L117.09 184.58 L117.72 195.42 L118.35 181.78 L118.99 170.1 L119.62 177.42 L120.25 182.76 L120.89 177.83 L121.52 175.16 L122.15 181.3 L122.78 185.29 L123.42 180.08 L124.05 176.43 L124.68 173.3 L125.32 168.84 L125.95 175.44 L126.58 184.03 L127.22 179.76 L127.85 172.63 L128.48 182.92 L129.11 195.42 L129.75 182.66 L130.38 168.84 L131.01 163.09 L131.65 159.97 L132.28 151.06 L132.91 139.72 L133.67 175.16 L134.18 167.43 L134.68 162.51 L135.44 187.82 L136.08 180.88 L136.71 172.63 L137.34 187.86 L137.97 205.54 L138.61 189.6 L139.24 172.63 L139.87 168.97 L140.51 167.57 L141.14 182.23 L141.77 195.42 L142.41 185.24 L143.04 176.43 L143.67 177.17 L144.3 175.16 L144.94 180.93 L145.57 187.82 L146.2 179.96 L146.84 170.1 L147.47 181.41 L148.1 195.42 L148.73 182.83 L149.37 168.84 L150 177.66 L150.63 187.82 L151.27 176.54 L151.9 162.51 L152.53 178.07 L153.16 195.42 L153.8 183.96 L154.43 170.1 L155.06 177.21 L155.7 185.29 L156.33 177.26 L156.96 167.57 L157.59 180.86 L158.23 195.42 L158.86 183.28 L159.49 168.84 L160.13 175.26 L160.76 182.76 L161.39 194.34 L162.03 203.01 L162.66 187.35 L163.29 172.63 L163.92 177.65 L164.56 180.23 L165.19 187.35 L165.82 195.42 L166.46 189.81 L167.09 182.76 L167.72 173.23 L168.35 166.3 L168.99 180.21 L169.62 192.89 L170.25 185.91 L170.89 180.23 L171.52 183.94 L172.15 185.29 L172.78 185.7 L173.42 187.82 L174.05 190.85 L174.68 192.89 L175 182.76 L175.63 183.8 L176.27 187.82 L176.9 191.6 L177.53 194.15 L178.16 187.97 L178.8 182.76 L179.43 189.9 L180.06 195.42 L180.7 186.73 L181.33 180.23 L181.96 179.56 L182.59 176.43 L183.23 171.43 L183.86 167.57 L184.62 159.97 L185.13 150.65 L185.63 139.72 L186.39 147.32 L187.15 167.57 L187.66 169.62 L188.16 172.63 L188.67 162.16 L189.18 149.85 L189.68 166.32 L190.19 185.29 L190.7 170.06 L191.2 152.38 L191.71 156.05 L192.22 162.51 L192.72 182.74 L193.23 200.48 L193.99 180.23 L194.62 162.42 L195.25 147.32 L195.89 143.44 L196.52 137.19 L197.28 167.57 L197.78 181.81 L198.29 197.95 L199.05 154.91 L199.68 153.07 L200.32 149.85 L201.08 133.39 L201.58 131.62 L202.09 132.13 L202.85 152.38 L203.61 172.63 L204.11 184.81 L204.62 195.42 L205.38 157.44 L206.01 161.32 L206.65 166.3 L207.28 164.06 L207.91 159.97 L208.54 166.2 L209.18 175.16 L209.81 174.48 L210.44 172.63 L211.08 175.37 L211.71 180.23 L212.34 176.03 L212.97 170.1 L213.61 161.52 L214.24 154.91 L214.87 164.37 L215.51 172.63 L216.27 147.32 L216.9 163.58 L217.53 182.76 L218.04 178.42 L218.54 172.63 L219.3 195.42 L219.94 181.67 L220.57 170.1 L221.2 169.73 L221.84 167.57 L222.47 170.9 L223.1 175.16 L223.73 181.9 L224.37 186.56 L225 168.87 L225.63 152.38 L226.27 155.42 L226.9 157.44 L227.53 167.08 L228.16 177.7 L228.8 183.38 L229.43 187.82 L230.19 192.89 L230.7 177.15 L231.2 162.51 L231.71 147.17 L232.22 129.59 L232.72 143.8 L233.23 159.97 L233.73 157.66 L234.24 152.38 L234.75 161.08 L235.25 172.63 L235.76 167.8 L236.27 159.97 L237.03 192.89 L237.66 177.64 L238.29 163.77 L238.92 166.59 L239.56 167.57 L240.19 169.39 L240.82 172.63 L241.46 182.56 L242.09 190.35 L242.72 174.06 L243.35 159.97 L243.99 156.2 L244.62 149.85 L245.25 160.05 L245.89 172.63 L246.52 179.68 L247.15 185.29 L247.78 173.64 L248.42 163.77 L249.05 169.21 L249.68 172.63 L250 172.63 L250.63 177.24 L251.27 182.76 L251.9 194.64 L252.53 205.54 L253.16 175.55 L253.8 147.32 L254.56 185.29 L255.06 171.93 L255.57 157.44 L256.33 197.95 L256.96 200.54 L257.59 205.54 L258.23 189.79 L258.86 172.63 L259.49 156.89 L260.13 142.25 L260.89 185.29 L261.52 177.07 L262.15 167.57 L262.66 178.27 L263.16 190.35 L263.92 159.97 L264.56 179.64 L265.19 197.95 L265.82 177.33 L266.46 158.71 L267.09 176.74 L267.72 192.89 L268.35 176.92 L268.99 162.51 L269.62 176.29 L270.25 187.82 L270.89 177.02 L271.52 167.57 L272.15 182.9 L272.78 195.42 L273.42 178.77 L274.05 165.04 L274.68 175.11 L275.32 182.76 L275.95 167.93 L276.58 154.91 L277.22 152.1 L277.85 147.32 L278.48 147.52 L279.11 149.85 L279.87 139.72 L280.38 150.35 L280.89 159.97 L281.52 152.76 L282.15 147.32 L282.91 127.06 L283.42 157.18 L283.92 185.29 L284.43 171.99 L284.94 159.97 L285.44 155.46 L285.95 149.85 L286.46 165.01 L286.96 182.76 L287.47 189.92 L287.97 195.42 L288.61 183.03 L289.24 172.63 L289.87 167.72 L290.51 159.97 L291.14 165.21 L291.77 172.63 L292.41 180.98 L293.04 187.82 L293.67 162.29 L294.3 139.72 L295.06 192.89 L295.57 166.51 L296.08 138.46 L296.58 171.53 L297.09 205.54 L297.59 190.26 L298.1 172.63 L298.73 170.81 L299.37 170.1 L300 178.47 L300.63 185.29 L301.27 178.9 L301.9 175.16 L302.53 178.85 L303.16 180.23 L303.8 192.42 L304.43 205.54 L305.19 132.13 L305.7 146.97 L306.2 159.97 L306.71 169.22 L307.22 180.23 L307.72 172.33 L308.23 162.51 L308.86 166.9 L309.49 172.63 L310.13 185.09 L310.76 195.42 L311.27 163.24 L311.77 132.13 L312.28 153.13 L312.78 172.63 L313.29 186.98 L313.8 203.01 L314.3 193.47 L314.81 180.54 L315.32 170.1 L315.82 182.74 L316.33 192.89 L316.84 179.58 L317.34 167.57 L317.85 158.49 L318.35 147.32 L318.99 164.18 L319.62 182.76 L320.25 195.09 L320.89 205.54 L321.52 187.85 L322.15 172.63 L322.78 181.09 L323.42 187.82 L323.92 196.74 L324.43 206.81 L324.94 185.24 L325.44 162.51 L325.95 172.63" fill="none" stroke="#000" stroke-opacity="0.15" stroke-width="2.0" stroke-linejoin="round"/>
<path d="M27.06 168.84 L27.7 169.28 L28.33 172.63 L28.96 166.48 L29.59 157.44 L30.35 175.16 L30.99 172.12 L31.62 170.1 L32.13 175.7 L32.63 180.23 L33.14 176.37 L33.65 176.39 L34.15 172.63 L34.74 172.75 L35.33 175.94 L35.92 176.43 L36.56 182.31 L37.19 190.35 L37.82 182.58 L38.46 172.63 L39.09 170.94 L39.72 171.37 L40.35 176.41 L40.99 180.23 L41.62 173 L42.25 167.57 L43.01 149.85 L43.77 195.42 L44.28 178.56 L44.78 159.97 L45.42 152.44 L46.05 147.32 L46.81 182.76 L47.32 154.91 L47.95 167.8 L48.58 177.7 L49.34 165.04 L49.85 166.12 L50.35 170.1 L50.86 171.54 L51.37 170.03 L51.87 171.37 L52.46 173.36 L53.05 173.41 L53.65 175.16 L54.28 179.44 L54.91 182.76 L55.54 176.76 L56.18 172.63 L56.81 179.11 L57.44 184.03 L58.08 176.21 L58.71 170.1 L59.34 176.55 L59.97 180.23 L60.61 175.43 L61.24 172.63 L61.87 178.73 L62.51 182.76 L63.14 175.1 L63.77 168.84 L64.41 164.88 L65.04 159.97 L65.67 168.04 L66.3 177.7 L66.94 170.69 L67.57 162.51 L68.2 166.58 L68.84 172.63 L69.47 167.17 L70.1 158.71 L70.73 159.45 L71.37 162.51 L72.13 195.42 L72.76 192.26 L73.39 187.82 L73.9 168.08 L74.41 151.11 L75.04 168.22 L75.67 182.76 L76.18 178.16 L76.68 177.41 L77.19 172.63 L77.7 164.42 L78.2 158.71 L78.71 170.75 L79.22 180.23 L79.72 188.27 L80.23 197.95 L80.73 186.77 L81.24 172.63 L81.75 164.84 L82.25 159.97 L82.89 154.26 L83.52 147.32 L84.03 161.26 L84.53 177.7 L85.29 149.85 L85.92 167.5 L86.56 182.76 L87.32 147.32 L87.82 170.43 L88.33 195.42 L88.84 183.77 L89.34 170.1 L89.85 175.47 L90.35 182.76 L90.99 181.65 L91.62 177.7 L92.25 172.92 L92.89 170.1 L93.52 177.12 L94.15 181.49 L94.78 181.3 L95.42 182.76 L96.05 182.87 L96.68 180.23 L97.32 177.57 L97.95 177.7 L98.58 181.79 L99.22 184.03 L99.85 182.35 L100.48 182.76 L101.27 171.37 L101.9 177.21 L102.53 180.23 L103.16 175.22 L103.8 172.63 L104.43 178.66 L105.06 182.76 L105.7 177.01 L106.33 172.63 L106.96 174.69 L107.59 175.16 L108.23 172.08 L108.86 171.37 L109.49 180.85 L110.13 189.09 L110.76 179.46 L111.39 172.63 L112.03 175.26 L112.66 176.43 L113.29 171.86 L113.92 170.1 L114.56 177.21 L115.19 182.76 L115.82 175.61 L116.46 171.37 L117.09 184.58 L117.72 195.42 L118.35 181.78 L118.99 170.1 L119.62 177.42 L120.25 182.76 L120.89 177.83 L121.52 175.16 L122.15 181.3 L122.78 185.29 L123.42 180.08 L124.05 176.43 L124.68 173.3 L125.32 168.84 L125.95 175.44 L126.58 184.03 L127.22 179.76 L127.85 172.63 L128.48 182.92 L129.11 195.42 L129.75 182.66 L130.38 168.84 L131.01 163.09 L131.65 159.97 L132.28 151.06 L132.91 139.72 L133.67 175.16 L134.18 167.43 L134.68 162.51 L135.44 187.82 L136.08 180.88 L136.71 172.63 L137.34 187.86 L137.97 205.54 L138.61 189.6 L139.24 172.63 L139.87 168.97 L140.51 167.57 L141.14 182.23 L141.77 195.42 L142.41 185.24 L143.04 176.43 L143.67 177.17 L144.3 175.16 L144.94 180.93 L145.57 187.82 L146.2 179.96 L146.84 170.1 L147.47 181.41 L148.1 195.42 L148.73 182.83 L149.37 168.84 L150 177.66 L150.63 187.82 L151.27 176.54 L151.9 162.51 L152.53 178.07 L153.16 195.42 L153.8 183.96 L154.43 170.1 L155.06 177.21 L155.7 185.29 L156.33 177.26 L156.96 167.57 L157.59 180.86 L158.23 195.42 L158.86 183.28 L159.49 168.84 L160.13 175.26 L160.76 182.76 L161.39 194.34 L162.03 203.01 L162.66 187.35 L163.29 172.63 L163.92 177.65 L164.56 180.23 L165.19 187.35 L165.82 195.42 L166.46 189.81 L167.09 182.76 L167.72 173.23 L168.35 166.3 L168.99 180.21 L169.62 192.89 L170.25 185.91 L170.89 180.23 L171.52 183.94 L172.15 185.29 L172.78 185.7 L173.42 187.82 L174.05 190.85 L174.68 192.89 L175 182.76 L175.63 183.8 L176.27 187.82 L176.9 191.6 L177.53 194.15 L178.16 187.97 L178.8 182.76 L179.43 189.9 L180.06 195.42 L180.7 186.73 L181.33 180.23 L181.96 179.56 L182.59 176.43 L183.23 171.43 L183.86 167.57 L184.62 159.97 L185.13 150.65 L185.63 139.72 L186.39 147.32 L187.15 167.57 L187.66 169.62 L188.16 172.63 L188.67 162.16 L189.18 149.85 L189.68 166.32 L190.19 185.29 L190.7 170.06 L191.2 152.38 L191.71 156.05 L192.22 162.51 L192.72 182.74 L193.23 200.48 L193.99 180.23 L194.62 162.42 L195.25 147.32 L195.89 143.44 L196.52 137.19 L197.28 167.57 L197.78 181.81 L198.29 197.95 L199.05 154.91 L199.68 153.07 L200.32 149.85 L201.08 133.39 L201.58 131.62 L202.09 132.13 L202.85 152.38 L203.61 172.63 L204.11 184.81 L204.62 195.42 L205.38 157.44 L206.01 161.32 L206.65 166.3 L207.28 164.06 L207.91 159.97 L208.54 166.2 L209.18 175.16 L209.81 174.48 L210.44 172.63 L211.08 175.37 L211.71 180.23 L212.34 176.03 L212.97 170.1 L213.61 161.52 L214.24 154.91 L214.87 164.37 L215.51 172.63 L216.27 147.32 L216.9 163.58 L217.53 182.76 L218.04 178.42 L218.54 172.63 L219.3 195.42 L219.94 181.67 L220.57 170.1 L221.2 169.73 L221.84 167.57 L222.47 170.9 L223.1 175.16 L223.73 181.9 L224.37 186.56 L225 168.87 L225.63 152.38 L226.27 155.42 L226.9 157.44 L227.53 167.08 L228.16 177.7 L228.8 183.38 L229.43 187.82 L230.19 192.89 L230.7 177.15 L231.2 162.51 L231.71 147.17 L232.22 129.59 L232.72 143.8 L233.23 159.97 L233.73 157.66 L234.24 152.38 L234.75 161.08 L235.25 172.63 L235.76 167.8 L236.27 159.97 L237.03 192.89 L237.66 177.64 L238.29 163.77 L238.92 166.59 L239.56 167.57 L240.19 169.39 L240.82 172.63 L241.46 182.56 L242.09 190.35 L242.72 174.06 L243.35 159.97 L243.99 156.2 L244.62 149.85 L245.25 160.05 L245.89 172.63 L246.52 179.68 L247.15 185.29 L247.78 173.64 L248.42 163.77 L249.05 169.21 L249.68 172.63 L250 172.63 L250.63 177.24 L251.27 182.76 L251.9 194.64 L252.53 205.54 L253.16 175.55 L253.8 147.32 L254.56 185.29 L255.06 171.93 L255.57 157.44 L256.33 197.95 L256.96 200.54 L257.59 205.54 L258.23 189.79 L258.86 172.63 L259.49 156.89 L260.13 142.25 L260.89 185.29 L261.52 177.07 L262.15 167.57 L262.66 178.27 L263.16 190.35 L263.92 159.97 L264.56 179.64 L265.19 197.95 L265.82 177.33 L266.46 158.71 L267.09 176.74 L267.72 192.89 L268.35 176.92 L268.99 162.51 L269.62 176.29 L270.25 187.82 L270.89 177.02 L271.52 167.57 L272.15 182.9 L272.78 195.42 L273.42 178.77 L274.05 165.04 L274.68 175.11 L275.32 182.76 L275.95 167.93 L276.58 154.91 L277.22 152.1 L277.85 147.32 L278.48 147.52 L279.11 149.85 L279.87 139.72 L280.38 150.35 L280.89 159.97 L281.52 152.76 L282.15 147.32 L282.91 127.06 L283.42 157.18 L283.92 185.29 L284.43 171.99 L284.94 159.97 L285.44 155.46 L285.95 149.85 L286.46 165.01 L286.96 182.76 L287.47 189.92 L287.97 195.42 L288.61 183.03 L289.24 172.63 L289.87 167.72 L290.51 159.97 L291.14 165.21 L291.77 172.63 L292.41 180.98 L293.04 187.82 L293.67 162.29 L294.3 139.72 L295.06 192.89 L295.57 166.51 L296.08 138.46 L296.58 171.53 L297.09 205.54 L297.59 190.26 L298.1 172.63 L298.73 170.81 L299.37 170.1 L300 178.47 L300.63 185.29 L301.27 178.9 L301.9 175.16 L302.53 178.85 L303.16 180.23 L303.8 192.42 L304.43 205.54 L305.19 132.13 L305.7 146.97 L306.2 159.97 L306.71 169.22 L307.22 180.23 L307.72 172.33 L308.23 162.51 L308.86 166.9 L309.49 172.63 L310.13 185.09 L310.76 195.42 L311.27 163.24 L311.77 132.13 L312.28 153.13 L312.78 172.63 L313.29 186.98 L313.8 203.01 L314.3 193.47 L314.81 180.54 L315.32 170.1 L315.82 182.74 L316.33 192.89 L316.84 179.58 L317.34 167.57 L317.85 158.49 L318.35 147.32 L318.99 164.18 L319.62 182.76 L320.25 195.09 L320.89 205.54 L321.52 187.85 L322.15 172.63 L322.78 181.09 L323.42 187.82 L323.92 196.74 L324.43 206.81 L324.94 185.24 L325.44 162.51 L325.95 172.63" fill="none" stroke="#2a2a2a" stroke-width="0.75" stroke-linejoin="round"/>
<line x1="24.8" y1="125.7" x2="24.8" y2="211.2" stroke="#333" stroke-width="1.1"/>
<line x1="24.3" y1="211.2" x2="330.2" y2="211.2" stroke="#333" stroke-width="1.1"/>
<line x1="27.3" y1="211.2" x2="27.3" y2="213.2" stroke="#333" stroke-width="1"/>
<text x="27.3" y="223.1" text-anchor="middle" font-size="9.4">0</text>
<line x1="86.56" y1="211.2" x2="86.56" y2="213.2" stroke="#333" stroke-width="1"/>
<text x="86.56" y="223.1" text-anchor="middle" font-size="9.4">10</text>
<line x1="145.82" y1="211.2" x2="145.82" y2="213.2" stroke="#333" stroke-width="1"/>
<text x="145.82" y="223.1" text-anchor="middle" font-size="9.4">20</text>
<line x1="205.08" y1="211.2" x2="205.08" y2="213.2" stroke="#333" stroke-width="1"/>
<text x="205.08" y="223.1" text-anchor="middle" font-size="9.4">30</text>
<line x1="264.34" y1="211.2" x2="264.34" y2="213.2" stroke="#333" stroke-width="1"/>
<text x="264.34" y="223.1" text-anchor="middle" font-size="9.4">40</text>
<line x1="323.6" y1="211.2" x2="323.6" y2="213.2" stroke="#333" stroke-width="1"/>
<text x="323.6" y="223.1" text-anchor="middle" font-size="9.4">50</text>
<text x="18.6" y="144.2" text-anchor="end" font-size="9.7">2</text>
<text x="18.6" y="165.6" text-anchor="end" font-size="9.7">0</text>
<text x="18.6" y="186.4" text-anchor="end" font-size="9.7">-2</text>
<text x="18.6" y="208" text-anchor="end" font-size="9.7">-4</text>
<text x="180.35" y="237" text-anchor="middle" font-size="11.8">Distance(km)</text>
<text transform="translate(7,167) rotate(-90)" text-anchor="middle" font-size="9.9">Coseismic slip (m)</text>
<text x="24.6" y="122.5" font-size="9.4">P2</text>
<text x="316.2" y="122.5" font-size="9.4">P2</text>
<line x1="327.6" y1="117.2" x2="328.4" y2="115.6" stroke="#333" stroke-width="0.8"/>
<line x1="24.5" y1="325.5" x2="329.2" y2="325.5" stroke="#8c8c8c" stroke-width="1.4"/>
<line x1="22.7" y1="325.5" x2="24.5" y2="325.5" stroke="#333" stroke-width="1"/>
<line x1="24.5" y1="315.1" x2="329.2" y2="315.1" stroke="#8c8c8c" stroke-width="1.4"/>
<line x1="22.7" y1="315.1" x2="24.5" y2="315.1" stroke="#333" stroke-width="1"/>
<line x1="24.5" y1="304.7" x2="329.2" y2="304.7" stroke="#8c8c8c" stroke-width="1.4"/>
<line x1="22.7" y1="304.7" x2="24.5" y2="304.7" stroke="#333" stroke-width="1"/>
<line x1="24.5" y1="294.3" x2="329.2" y2="294.3" stroke="#8c8c8c" stroke-width="1.4"/>
<line x1="22.7" y1="294.3" x2="24.5" y2="294.3" stroke="#333" stroke-width="1"/>
<line x1="24.5" y1="283.9" x2="329.2" y2="283.9" stroke="#8c8c8c" stroke-width="1.4"/>
<line x1="22.7" y1="283.9" x2="24.5" y2="283.9" stroke="#333" stroke-width="1"/>
<line x1="24.5" y1="273.5" x2="329.2" y2="273.5" stroke="#8c8c8c" stroke-width="1.4"/>
<line x1="22.7" y1="273.5" x2="24.5" y2="273.5" stroke="#333" stroke-width="1"/>
<line x1="24.5" y1="263.1" x2="329.2" y2="263.1" stroke="#8c8c8c" stroke-width="1.4"/>
<line x1="22.7" y1="263.1" x2="24.5" y2="263.1" stroke="#333" stroke-width="1"/>
<line x1="24.5" y1="252.7" x2="329.2" y2="252.7" stroke="#8c8c8c" stroke-width="1.4"/>
<line x1="22.7" y1="252.7" x2="24.5" y2="252.7" stroke="#333" stroke-width="1"/>
<line x1="24.5" y1="249.5" x2="329.2" y2="249.5" stroke="#9a9a9a" stroke-width="1.3"/>
<line x1="329.2" y1="249.5" x2="329.2" y2="329.5" stroke="#9a9a9a" stroke-width="1.1"/>
<path d="M27.33 312.88 L28.06 306.82 L28.79 308.03 L29.76 301.97 L30.73 301.04 L31.7 300.76 L32.51 301.23 L33.31 300.37 L34.12 300.76 L34.73 297.02 L35.33 292.27 L35.94 291.15 L36.55 291.06 L37.03 317.73 L38 315.3 L38.97 301.97 L39.45 309.24 L40.18 303.18 L41.03 303.18 L41.88 302.7 L42.85 302.72 L43.82 303.18 L44.42 303.2 L45.03 301.97 L45.76 293.48 L46.73 303.18 L47.45 292.27 L48.18 300.76 L49.15 295.91 L49.88 298.33 L50.61 291.06 L51.58 300.76 L52.55 297.12 L53.03 293.73 L53.52 292.27 L54.24 316.52 L54.73 304.11 L55.21 289.85 L55.94 315.3 L56.67 295.91 L57.15 304.82 L57.64 317.73 L58.36 298.33 L59.09 315.3 L59.58 310.5 L60.06 303.18 L60.79 317.73 L61.39 306.26 L62 298.33 L62.73 326.21 L63.21 308.09 L63.7 287.42 L64.42 303.18 L65.15 293.48 L65.76 288.96 L66.36 287.42 L66.85 296.11 L67.33 303.18 L68.06 320.15 L68.55 310.18 L69.03 303.18 L69.52 304.59 L70 301.04 L70.48 301.97 L71.09 310.42 L71.7 317.73 L72.3 309.92 L72.91 303.18 L73.52 302.82 L74.12 301.97 L74.73 301.99 L75.33 303.18 L75.94 304.29 L76.55 304.39 L77.15 303.19 L77.76 302.7 L78.36 310.44 L78.97 317.73 L79.58 308.61 L80.18 300.76 L80.79 299.38 L81.39 297.12 L82 294.13 L82.61 292.27 L83.21 293.52 L83.82 293.48 L84.42 291.71 L85.03 291.06 L85.64 294.15 L86.24 295.91 L86.97 289.85 L87.94 303.18 L88.67 283.79 L89.39 322.58 L90.36 301.97 L91.33 310.45 L92.3 300.76 L92.91 307.63 L93.52 315.3 L94.12 309.24 L94.73 301.97 L95.33 305.18 L95.94 309.24 L96.55 308.09 L97.15 305.61 L97.76 303.15 L98.36 301.97 L98.97 310.11 L99.58 317.73 L100.18 310.78 L100.79 304.39 L101.21 310.45 L101.82 307.54 L102.42 303.18 L103.03 304.65 L103.64 309.24 L104.24 306.57 L104.85 301.97 L105.45 303.82 L106.06 308.03 L106.79 315.3 L107.27 304.61 L107.76 292.27 L108.48 305.61 L109.21 295.91 L109.7 287.59 L110.18 281.36 L110.91 316.52 L111.64 293.48 L112.12 288.94 L112.61 282.58 L113.33 315.3 L113.94 308.37 L114.55 303.18 L115.15 303.1 L115.76 300.76 L116.36 296.59 L116.97 294.7 L117.58 305.65 L118.18 315.3 L118.79 308.7 L119.39 303.18 L120 309.91 L120.61 315.3 L121.21 309.82 L121.82 305.61 L122.42 304.48 L123.03 301.97 L123.64 302.64 L124.24 304.39 L124.85 304.08 L125.45 303.18 L126.06 303.16 L126.67 304.39 L127.27 303.86 L127.88 301.97 L128.48 301.92 L129.09 303.18 L129.7 303.06 L130.3 301.97 L130.91 300.8 L131.52 300.76 L132.12 302.28 L132.73 303.18 L133.33 298.93 L133.94 295.91 L134.55 307.31 L135.15 317.73 L135.76 312.53 L136.36 308.03 L136.97 307.67 L137.58 306.82 L138.18 306.8 L138.79 308.03 L139.39 309.94 L140 310.45 L140.61 309.23 L141.21 308.52 L141.82 309.48 L142.42 309.24 L143.03 308.23 L143.64 308.03 L144.24 311.34 L144.85 314.09 L145.45 311.31 L146.06 309.24 L146.67 311.65 L147.27 312.88 L147.88 307.39 L148.48 303.18 L149.09 307.66 L149.7 311.67 L150.3 310.55 L150.91 310.45 L151.52 307.05 L152.12 303.18 L152.73 305.65 L153.33 309.24 L153.94 311.43 L154.55 312.88 L155.15 308.6 L155.76 305.61 L156.36 309.33 L156.97 311.67 L157.58 310.6 L158.18 310.45 L158.79 318.43 L159.39 325 L160 314.34 L160.61 304.39 L161.21 307.67 L161.82 310.45 L162.42 306.31 L163.03 303.18 L163.64 308.86 L164.24 314.09 L164.85 311.36 L165.45 309.24 L166.06 313.89 L166.67 317.73 L167.27 312.37 L167.88 308.03 L168.48 316.8 L169.09 325 L169.7 316.28 L170.3 308.03 L170.91 311.09 L171.52 312.88 L172.12 309.48 L172.73 306.82 L173.54 306.29 L174.34 303.74 L175.15 303.18 L175.76 307.82 L176.36 311.67 L176.45 305.61 L177.42 317.73 L178.03 310.02 L178.64 303.18 L179.24 308.5 L179.85 312.88 L180.45 308.11 L181.06 304.39 L181.67 308.53 L182.27 311.67 L182.88 308.15 L183.48 305.61 L184.09 308.54 L184.7 310.45 L185.3 307.36 L185.91 305.61 L186.52 309.7 L187.12 312.88 L187.73 310.64 L188.33 309.24 L188.94 314.05 L189.55 317.73 L190.15 318.01 L190.76 318.94 L191.36 317.48 L191.97 315.3 L192.45 308.03 L192.94 300.76 L193.42 293.48 L193.91 283.79 L194.39 268.03 L195.12 283.79 L195.85 271.67 L196.33 288.64 L197.3 254.7 L198.03 252.27 L198.76 291.06 L199.24 274.09 L200.21 281.36 L201.18 276.52 L202.15 271.67 L202.88 278.94 L203.61 263.18 L204.58 278.94 L205.3 274.09 L206.03 276.52 L207 269.24 L207.73 254.7 L208.45 250.33 L208.94 283.79 L209.55 279.46 L210.15 276.52 L210.76 276.37 L211.36 275.3 L211.97 274.22 L212.58 274.09 L213.18 275.52 L213.79 276.52 L214.39 274.28 L215 272.88 L215.61 273.98 L216.21 274.09 L216.82 274.48 L217.42 275.3 L218.03 274.6 L218.64 272.88 L219.24 274.78 L219.85 277.73 L220.45 277.36 L221.06 276.52 L221.67 278.42 L222.27 281.36 L222.88 276.95 L223.48 271.67 L224.09 267.49 L224.7 264.39 L225.42 283.79 L225.91 288.64 L226.52 282.96 L227.12 276.52 L227.73 274.75 L228.33 274.09 L228.94 278.3 L229.55 281.36 L230.15 287.2 L230.76 293.48 L231.36 284.03 L231.97 274.09 L232.58 277.19 L233.18 281.36 L233.79 283.26 L234.39 283.79 L235 287.09 L235.61 291.06 L236.21 286.65 L236.82 281.36 L237.42 280.26 L238.03 280.15 L238.64 281.12 L239.24 281.36 L239.85 279.76 L240.45 278.94 L241.06 281.12 L241.67 282.58 L242.27 280.97 L242.88 280.15 L243.48 281.87 L244.09 282.58 L244.7 281.61 L245.3 281.36 L245.91 278.12 L246.52 274.09 L247.24 269.24 L247.73 283.79 L248.33 281.38 L248.94 280.15 L249.55 288.86 L250.15 297.12 L250.76 289.97 L251.36 283.79 L251.97 290.42 L252.58 295.91 L253.64 281.41 L254.25 285.9 L254.85 291.12 L255.46 284.15 L256.07 276.55 L256.8 272.91 L257.77 288.69 L258.5 282.62 L259.1 284.44 L259.71 287.48 L260.44 295.97 L261.41 285.05 L262.01 286.59 L262.62 287.48 L263.59 283.83 L264.56 280.19 L265.17 287.78 L265.78 295.97 L266.38 290.93 L266.99 285.05 L267.6 290.56 L268.2 297.18 L268.81 278.03 L269.42 258.35 L269.9 281.41 L270.63 276.55 L271.36 280.19 L272.33 272.91 L273.06 278.98 L273.67 279.83 L274.27 281.41 L274.88 285.42 L275.49 288.69 L276.21 300.83 L276.7 317.82 L277.43 303.25 L278.16 287.48 L279.13 289.9 L279.73 292.32 L280.34 295.97 L280.95 289.72 L281.55 282.62 L282.16 280.78 L282.77 280.19 L283.37 281.09 L283.98 281.41 L284.59 274.96 L285.19 269.27 L285.8 265.55 L286.41 260.78 L287.14 271.7 L288.11 278.98 L288.83 270.49 L289.44 271.66 L290.05 274.13 L290.66 285.48 L291.26 295.97 L292.23 269.27 L293.2 264.42 L294.17 281.41 L295.15 268.06 L296.12 271.7 L296.72 276.23 L297.33 281.41 L297.94 278.04 L298.54 274.13 L299.15 278.51 L299.76 283.83 L300.36 281.71 L300.97 278.98 L301.58 283.23 L302.18 288.69 L302.79 275.35 L303.4 260.78 L304.13 298.4 L305.1 274.13 L305.83 298.4 L306.8 277.77 L307.77 298.4 L308.74 283.83 L309.47 293.54 L310.07 292.03 L310.68 291.12 L311.29 287.82 L311.89 283.83 L312.62 305.68 L313.59 288.69 L314.56 281.41 L315.53 293.54 L316.14 286.87 L316.75 281.41 L317.35 286.79 L317.96 291.12 L318.57 291.73 L319.17 293.54 L319.78 295.14 L320.39 295.97 L321 300.55 L321.6 305.68 L322.33 308.11 L323.3 299.61 L324.27 305.68 L325.24 295.97 L325.97 275.34 L326.7 293.54" fill="none" stroke="#000" stroke-opacity="0.15" stroke-width="2.0" stroke-linejoin="round"/>
<path d="M27.33 312.88 L28.06 306.82 L28.79 308.03 L29.76 301.97 L30.73 301.04 L31.7 300.76 L32.51 301.23 L33.31 300.37 L34.12 300.76 L34.73 297.02 L35.33 292.27 L35.94 291.15 L36.55 291.06 L37.03 317.73 L38 315.3 L38.97 301.97 L39.45 309.24 L40.18 303.18 L41.03 303.18 L41.88 302.7 L42.85 302.72 L43.82 303.18 L44.42 303.2 L45.03 301.97 L45.76 293.48 L46.73 303.18 L47.45 292.27 L48.18 300.76 L49.15 295.91 L49.88 298.33 L50.61 291.06 L51.58 300.76 L52.55 297.12 L53.03 293.73 L53.52 292.27 L54.24 316.52 L54.73 304.11 L55.21 289.85 L55.94 315.3 L56.67 295.91 L57.15 304.82 L57.64 317.73 L58.36 298.33 L59.09 315.3 L59.58 310.5 L60.06 303.18 L60.79 317.73 L61.39 306.26 L62 298.33 L62.73 326.21 L63.21 308.09 L63.7 287.42 L64.42 303.18 L65.15 293.48 L65.76 288.96 L66.36 287.42 L66.85 296.11 L67.33 303.18 L68.06 320.15 L68.55 310.18 L69.03 303.18 L69.52 304.59 L70 301.04 L70.48 301.97 L71.09 310.42 L71.7 317.73 L72.3 309.92 L72.91 303.18 L73.52 302.82 L74.12 301.97 L74.73 301.99 L75.33 303.18 L75.94 304.29 L76.55 304.39 L77.15 303.19 L77.76 302.7 L78.36 310.44 L78.97 317.73 L79.58 308.61 L80.18 300.76 L80.79 299.38 L81.39 297.12 L82 294.13 L82.61 292.27 L83.21 293.52 L83.82 293.48 L84.42 291.71 L85.03 291.06 L85.64 294.15 L86.24 295.91 L86.97 289.85 L87.94 303.18 L88.67 283.79 L89.39 322.58 L90.36 301.97 L91.33 310.45 L92.3 300.76 L92.91 307.63 L93.52 315.3 L94.12 309.24 L94.73 301.97 L95.33 305.18 L95.94 309.24 L96.55 308.09 L97.15 305.61 L97.76 303.15 L98.36 301.97 L98.97 310.11 L99.58 317.73 L100.18 310.78 L100.79 304.39 L101.21 310.45 L101.82 307.54 L102.42 303.18 L103.03 304.65 L103.64 309.24 L104.24 306.57 L104.85 301.97 L105.45 303.82 L106.06 308.03 L106.79 315.3 L107.27 304.61 L107.76 292.27 L108.48 305.61 L109.21 295.91 L109.7 287.59 L110.18 281.36 L110.91 316.52 L111.64 293.48 L112.12 288.94 L112.61 282.58 L113.33 315.3 L113.94 308.37 L114.55 303.18 L115.15 303.1 L115.76 300.76 L116.36 296.59 L116.97 294.7 L117.58 305.65 L118.18 315.3 L118.79 308.7 L119.39 303.18 L120 309.91 L120.61 315.3 L121.21 309.82 L121.82 305.61 L122.42 304.48 L123.03 301.97 L123.64 302.64 L124.24 304.39 L124.85 304.08 L125.45 303.18 L126.06 303.16 L126.67 304.39 L127.27 303.86 L127.88 301.97 L128.48 301.92 L129.09 303.18 L129.7 303.06 L130.3 301.97 L130.91 300.8 L131.52 300.76 L132.12 302.28 L132.73 303.18 L133.33 298.93 L133.94 295.91 L134.55 307.31 L135.15 317.73 L135.76 312.53 L136.36 308.03 L136.97 307.67 L137.58 306.82 L138.18 306.8 L138.79 308.03 L139.39 309.94 L140 310.45 L140.61 309.23 L141.21 308.52 L141.82 309.48 L142.42 309.24 L143.03 308.23 L143.64 308.03 L144.24 311.34 L144.85 314.09 L145.45 311.31 L146.06 309.24 L146.67 311.65 L147.27 312.88 L147.88 307.39 L148.48 303.18 L149.09 307.66 L149.7 311.67 L150.3 310.55 L150.91 310.45 L151.52 307.05 L152.12 303.18 L152.73 305.65 L153.33 309.24 L153.94 311.43 L154.55 312.88 L155.15 308.6 L155.76 305.61 L156.36 309.33 L156.97 311.67 L157.58 310.6 L158.18 310.45 L158.79 318.43 L159.39 325 L160 314.34 L160.61 304.39 L161.21 307.67 L161.82 310.45 L162.42 306.31 L163.03 303.18 L163.64 308.86 L164.24 314.09 L164.85 311.36 L165.45 309.24 L166.06 313.89 L166.67 317.73 L167.27 312.37 L167.88 308.03 L168.48 316.8 L169.09 325 L169.7 316.28 L170.3 308.03 L170.91 311.09 L171.52 312.88 L172.12 309.48 L172.73 306.82 L173.54 306.29 L174.34 303.74 L175.15 303.18 L175.76 307.82 L176.36 311.67 L176.45 305.61 L177.42 317.73 L178.03 310.02 L178.64 303.18 L179.24 308.5 L179.85 312.88 L180.45 308.11 L181.06 304.39 L181.67 308.53 L182.27 311.67 L182.88 308.15 L183.48 305.61 L184.09 308.54 L184.7 310.45 L185.3 307.36 L185.91 305.61 L186.52 309.7 L187.12 312.88 L187.73 310.64 L188.33 309.24 L188.94 314.05 L189.55 317.73 L190.15 318.01 L190.76 318.94 L191.36 317.48 L191.97 315.3 L192.45 308.03 L192.94 300.76 L193.42 293.48 L193.91 283.79 L194.39 268.03 L195.12 283.79 L195.85 271.67 L196.33 288.64 L197.3 254.7 L198.03 252.27 L198.76 291.06 L199.24 274.09 L200.21 281.36 L201.18 276.52 L202.15 271.67 L202.88 278.94 L203.61 263.18 L204.58 278.94 L205.3 274.09 L206.03 276.52 L207 269.24 L207.73 254.7 L208.45 250.33 L208.94 283.79 L209.55 279.46 L210.15 276.52 L210.76 276.37 L211.36 275.3 L211.97 274.22 L212.58 274.09 L213.18 275.52 L213.79 276.52 L214.39 274.28 L215 272.88 L215.61 273.98 L216.21 274.09 L216.82 274.48 L217.42 275.3 L218.03 274.6 L218.64 272.88 L219.24 274.78 L219.85 277.73 L220.45 277.36 L221.06 276.52 L221.67 278.42 L222.27 281.36 L222.88 276.95 L223.48 271.67 L224.09 267.49 L224.7 264.39 L225.42 283.79 L225.91 288.64 L226.52 282.96 L227.12 276.52 L227.73 274.75 L228.33 274.09 L228.94 278.3 L229.55 281.36 L230.15 287.2 L230.76 293.48 L231.36 284.03 L231.97 274.09 L232.58 277.19 L233.18 281.36 L233.79 283.26 L234.39 283.79 L235 287.09 L235.61 291.06 L236.21 286.65 L236.82 281.36 L237.42 280.26 L238.03 280.15 L238.64 281.12 L239.24 281.36 L239.85 279.76 L240.45 278.94 L241.06 281.12 L241.67 282.58 L242.27 280.97 L242.88 280.15 L243.48 281.87 L244.09 282.58 L244.7 281.61 L245.3 281.36 L245.91 278.12 L246.52 274.09 L247.24 269.24 L247.73 283.79 L248.33 281.38 L248.94 280.15 L249.55 288.86 L250.15 297.12 L250.76 289.97 L251.36 283.79 L251.97 290.42 L252.58 295.91 L253.64 281.41 L254.25 285.9 L254.85 291.12 L255.46 284.15 L256.07 276.55 L256.8 272.91 L257.77 288.69 L258.5 282.62 L259.1 284.44 L259.71 287.48 L260.44 295.97 L261.41 285.05 L262.01 286.59 L262.62 287.48 L263.59 283.83 L264.56 280.19 L265.17 287.78 L265.78 295.97 L266.38 290.93 L266.99 285.05 L267.6 290.56 L268.2 297.18 L268.81 278.03 L269.42 258.35 L269.9 281.41 L270.63 276.55 L271.36 280.19 L272.33 272.91 L273.06 278.98 L273.67 279.83 L274.27 281.41 L274.88 285.42 L275.49 288.69 L276.21 300.83 L276.7 317.82 L277.43 303.25 L278.16 287.48 L279.13 289.9 L279.73 292.32 L280.34 295.97 L280.95 289.72 L281.55 282.62 L282.16 280.78 L282.77 280.19 L283.37 281.09 L283.98 281.41 L284.59 274.96 L285.19 269.27 L285.8 265.55 L286.41 260.78 L287.14 271.7 L288.11 278.98 L288.83 270.49 L289.44 271.66 L290.05 274.13 L290.66 285.48 L291.26 295.97 L292.23 269.27 L293.2 264.42 L294.17 281.41 L295.15 268.06 L296.12 271.7 L296.72 276.23 L297.33 281.41 L297.94 278.04 L298.54 274.13 L299.15 278.51 L299.76 283.83 L300.36 281.71 L300.97 278.98 L301.58 283.23 L302.18 288.69 L302.79 275.35 L303.4 260.78 L304.13 298.4 L305.1 274.13 L305.83 298.4 L306.8 277.77 L307.77 298.4 L308.74 283.83 L309.47 293.54 L310.07 292.03 L310.68 291.12 L311.29 287.82 L311.89 283.83 L312.62 305.68 L313.59 288.69 L314.56 281.41 L315.53 293.54 L316.14 286.87 L316.75 281.41 L317.35 286.79 L317.96 291.12 L318.57 291.73 L319.17 293.54 L319.78 295.14 L320.39 295.97 L321 300.55 L321.6 305.68 L322.33 308.11 L323.3 299.61 L324.27 305.68 L325.24 295.97 L325.97 275.34 L326.7 293.54" fill="none" stroke="#222" stroke-width="0.9" stroke-linejoin="round"/>
<line x1="24.5" y1="249.5" x2="24.5" y2="329.5" stroke="#333" stroke-width="1.1"/>
<line x1="24" y1="329.5" x2="329.2" y2="329.5" stroke="#333" stroke-width="1.2"/>
<line x1="27.3" y1="329.5" x2="27.3" y2="331.5" stroke="#333" stroke-width="1"/>
<text x="27.3" y="341.6" text-anchor="middle" font-size="9.4">0</text>
<line x1="87.6" y1="329.5" x2="87.6" y2="331.5" stroke="#333" stroke-width="1"/>
<text x="87.6" y="341.6" text-anchor="middle" font-size="9.4">10</text>
<line x1="147.9" y1="329.5" x2="147.9" y2="331.5" stroke="#333" stroke-width="1"/>
<text x="147.9" y="341.6" text-anchor="middle" font-size="9.4">20</text>
<line x1="208.2" y1="329.5" x2="208.2" y2="331.5" stroke="#333" stroke-width="1"/>
<text x="208.2" y="341.6" text-anchor="middle" font-size="9.4">30</text>
<line x1="268.5" y1="329.5" x2="268.5" y2="331.5" stroke="#333" stroke-width="1"/>
<text x="268.5" y="341.6" text-anchor="middle" font-size="9.4">40</text>
<line x1="328.8" y1="329.5" x2="328.8" y2="331.5" stroke="#333" stroke-width="1"/>
<text x="328.8" y="341.6" text-anchor="middle" font-size="9.4">50</text>
<text x="18.6" y="266.8" text-anchor="end" font-size="9.7">2</text>
<text x="18.6" y="287.6" text-anchor="end" font-size="9.7">0</text>
<text x="18.6" y="308.4" text-anchor="end" font-size="9.7">-2</text>
<text x="18.6" y="329.2" text-anchor="end" font-size="9.7">-4</text>
<text x="179.1" y="358.3" text-anchor="middle" font-size="11.8">Distance(km)</text>
<text transform="translate(7,287.8) rotate(-90)" text-anchor="middle" font-size="9.9">Coseismic slip (m)</text>
<text x="24.6" y="246.3" font-size="9.4">P3</text>
<text x="315.4" y="246.6" font-size="9.4">P3</text>
<line x1="326.8" y1="241.3" x2="327.6" y2="239.7" stroke="#333" stroke-width="0.8"/>
<line x1="379.6" y1="85.02" x2="683.2" y2="85.02" stroke="#b4b4b4" stroke-width="1.4"/>
<line x1="377" y1="85.02" x2="379.6" y2="85.02" stroke="#666" stroke-width="1"/>
<line x1="379.6" y1="76.49" x2="683.2" y2="76.49" stroke="#b4b4b4" stroke-width="1.4"/>
<line x1="377" y1="76.49" x2="379.6" y2="76.49" stroke="#666" stroke-width="1"/>
<line x1="379.6" y1="67.96" x2="683.2" y2="67.96" stroke="#b4b4b4" stroke-width="1.4"/>
<line x1="377" y1="67.96" x2="379.6" y2="67.96" stroke="#666" stroke-width="1"/>
<line x1="379.6" y1="59.43" x2="683.2" y2="59.43" stroke="#b4b4b4" stroke-width="1.4"/>
<line x1="377" y1="59.43" x2="379.6" y2="59.43" stroke="#666" stroke-width="1"/>
<line x1="379.6" y1="50.9" x2="683.2" y2="50.9" stroke="#b4b4b4" stroke-width="1.4"/>
<line x1="377" y1="50.9" x2="379.6" y2="50.9" stroke="#666" stroke-width="1"/>
<line x1="379.6" y1="42.37" x2="683.2" y2="42.37" stroke="#b4b4b4" stroke-width="1.4"/>
<line x1="377" y1="42.37" x2="379.6" y2="42.37" stroke="#666" stroke-width="1"/>
<line x1="379.6" y1="33.84" x2="683.2" y2="33.84" stroke="#b4b4b4" stroke-width="1.4"/>
<line x1="377" y1="33.84" x2="379.6" y2="33.84" stroke="#666" stroke-width="1"/>
<line x1="379.6" y1="25.31" x2="683.2" y2="25.31" stroke="#b4b4b4" stroke-width="1.4"/>
<line x1="377" y1="25.31" x2="379.6" y2="25.31" stroke="#666" stroke-width="1"/>
<line x1="379.6" y1="16.78" x2="683.2" y2="16.78" stroke="#b4b4b4" stroke-width="1.4"/>
<line x1="377" y1="16.78" x2="379.6" y2="16.78" stroke="#666" stroke-width="1"/>
<line x1="379.6" y1="10.4" x2="683.2" y2="10.4" stroke="#999" stroke-width="1.3"/>
<line x1="683.2" y1="10.4" x2="683.2" y2="90.5" stroke="#999" stroke-width="1.1"/>
<path d="M381.59 78.66 L382.31 72.67 L382.79 77.46 L383.75 63.09 L384.71 53.51 L385.19 69.08 L385.9 58.3 L386.38 48.72 L387.1 61.89 L388.06 60.69 L389.02 65.49 L389.98 63.09 L390.93 67.88 L391.41 78.66 L391.89 63.09 L392.85 64.29 L393.33 60.96 L393.81 59.5 L394.29 62.04 L394.77 63.09 L395.17 58.74 L395.56 57.52 L395.96 53.51 L396.32 45.63 L396.68 39.14 L397.16 53.47 L397.64 65.49 L398 74.98 L398.36 88.24 L398.72 67.8 L399.08 43.93 L399.56 41.06 L400.04 41.53 L400.4 47.23 L400.75 51.11 L401.11 43.77 L401.47 39.14 L401.95 42.52 L402.43 43.93 L402.91 37.7 L403.39 33.15 L403.87 50.07 L404.35 65.49 L404.83 55 L405.31 46.32 L405.78 44.63 L406.26 39.14 L406.74 36.18 L407.22 36.74 L407.7 44.46 L408.18 48.72 L408.66 50.59 L409.14 55.9 L409.54 57.57 L409.94 56.47 L410.34 58.3 L410.73 58.98 L411.13 55.08 L411.53 55.9 L411.93 60.1 L412.33 58.86 L412.73 63.09 L413.93 70.28 L414.65 49.92 L415.6 59.5 L416.32 65.49 L417.52 72.67 L418.72 58.3 L419.92 66.68 L421.11 63.09 L422.31 49.92 L423.03 71.47 L423.99 60.69 L424.95 65.49 L425.9 71.47 L427.1 59.5 L428.3 65.49 L429.5 63.09 L430.69 67.88 L431.89 66.68 L433.09 57.1 L434.29 48.72 L435.01 65.49 L435.96 59.5 L436.68 65.85 L437.4 71.47 L438.36 51.11 L439.08 77.46 L439.8 61.89 L440.75 59.5 L441.71 61.89 L442.67 64.29 L443.39 67.88 L444.11 85.84 L445.07 67.88 L446.02 58.3 L446.98 57.1 L447.94 59.5 L448.9 65.49 L449.86 67.88 L450.81 85.84 L451.77 63.09 L452.73 64.29 L453.69 58.3 L454.65 59.5 L455.84 57.1 L456.2 65.49 L457.4 58.3 L458.59 61.89 L459.79 57.1 L460.99 61.89 L462.19 58.3 L463.38 70.28 L464.58 67.88 L465.78 49.92 L466.5 72.67 L467.46 51.11 L468.41 63.09 L469.37 47.52 L470.33 65.49 L471.29 55.9 L472.25 77.46 L472.96 61.89 L474.16 53.51 L475.36 65.49 L476.56 55.9 L477.75 59.5 L478.95 58.3 L480.15 67.88 L480.87 53.51 L481.83 43.93 L482.54 30.75 L483.26 39.14 L484.22 49.92 L485.18 58.3 L486.14 76.26 L486.86 63.09 L487.57 70.28 L488.53 65.49 L489.73 75.07 L490.93 67.88 L492.13 77.46 L493.32 65.49 L494.52 70.28 L495.72 72.67 L496.92 67.88 L498.11 76.26 L499.31 72.67 L500.51 78.66 L501.71 71.47 L502.9 67.88 L504.1 72.67 L505.3 65.49 L506.5 60.69 L507.69 67.88 L508.89 64.29 L510.09 61.89 L511.29 65.49 L512.49 60.69 L513.68 67.88 L514.88 58.3 L516.08 63.09 L517.28 55.9 L518.47 53.51 L519.67 39.14 L520.63 17.58 L521.59 16.38 L522.54 34.35 L523.5 43.93 L524.46 55.9 L525.42 51.11 L526.38 60.69 L527.34 31.95 L528.05 67.88 L529.25 46.32 L530.45 55.9 L530.85 55.4 L531.25 58.89 L531.65 58.3 L532.16 75.07 L532.51 76.28 L532.87 79.86 L533.23 66.25 L533.59 51.11 L534.07 39.14 L534.43 53.57 L534.79 70.28 L535.15 64.34 L535.51 57.1 L535.87 57.18 L536.23 60.69 L536.71 65.92 L537.19 67.88 L537.66 51.11 L538.02 39.11 L538.38 29.56 L538.86 17.58 L539.22 26.88 L539.58 34.35 L540.06 27.87 L540.54 24.77 L541.02 27.23 L541.5 27.16 L541.98 23.11 L542.46 22.37 L542.81 29.97 L543.17 34.35 L543.53 25.98 L543.89 19.98 L544.37 29.42 L544.85 36.74 L545.21 51.02 L545.57 67.88 L545.93 55.79 L546.29 41.53 L546.77 22.37 L547.13 16.84 L547.49 12.79 L547.84 14.91 L548.2 15.19 L548.68 17.21 L549.16 22.37 L549.64 20.57 L550.12 17.58 L550.6 15.19 L551.08 13.99 L551.56 18.31 L552.04 19.98 L552.51 22.68 L552.99 27.16 L553.47 23.58 L553.95 17.58 L554.43 20.04 L554.91 24.77 L555.39 21.55 L555.87 16.38 L556.35 17.58 L556.83 22.37 L557.31 25.55 L557.78 27.16 L558.26 22.51 L558.74 19.98 L559.22 30.35 L559.7 39.14 L560.18 30.61 L560.66 24.77 L561.14 28.05 L561.62 29.56 L562.1 24.98 L562.57 22.37 L563.05 25.65 L563.53 25.96 L564.01 28.01 L564.49 31.95 L564.97 29.6 L565.45 24.77 L565.93 25.48 L566.41 29.56 L566.89 25.43 L567.37 19.98 L567.84 18.16 L568.32 17.58 L568.68 23.2 L569.04 27.16 L569.4 30.45 L569.76 36.74 L570.24 34.47 L570.72 29.56 L571.2 34.11 L571.68 40.34 L572.16 34.71 L572.63 27.16 L573.11 28.79 L573.59 31.95 L574.07 29.48 L574.55 24.77 L575.03 26.57 L575.51 29.56 L575.91 31.37 L576.31 28.69 L576.71 30.75 L577.11 31.3 L577.5 26.89 L577.9 27.16 L578.3 30.51 L578.7 29.79 L579.1 31.95 L579.5 32.46 L579.9 29.4 L580.3 30.75 L580.78 25.68 L581.26 17.58 L581.74 33.15 L582.22 43.93 L582.69 51.11 L583.17 41.53 L583.53 46.46 L583.89 53.51 L584.25 52.84 L584.61 48.72 L585.09 53.38 L585.57 60.69 L586.05 55.6 L586.53 46.32 L587.01 41.52 L587.49 39.14 L587.96 36.59 L588.44 31.95 L588.92 25.7 L589.4 22.37 L589.88 26.91 L590.36 29.56 L590.84 29.39 L591.32 31.95 L591.8 30.7 L592.28 24.77 L592.75 28.28 L593.23 34.35 L593.71 32.69 L594.19 29.56 L594.67 31.16 L595.15 34.35 L595.63 37.75 L596.11 39.14 L596.59 32.91 L597.07 30.75 L597.54 33.88 L598.02 34.35 L598.5 30.74 L598.98 29.56 L599.46 36.43 L599.94 41.53 L600.42 34.37 L600.9 31.95 L601.38 34.58 L601.86 34.35 L602.34 38.07 L602.81 43.93 L603.29 38.76 L603.77 31.95 L604.25 26.35 L604.73 22.37 L605.21 29.36 L605.69 34.35 L606.17 27.7 L606.65 24.77 L607.05 32.13 L607.45 36.75 L607.84 43.93 L608.35 36.74 L608.83 35.29 L609.31 30.75 L609.79 35.01 L610.27 41.53 L610.75 46.32 L611.23 46.32 L611.71 34.62 L612.19 24.77 L612.66 29.97 L613.14 31.95 L613.62 27.54 L614.1 27.16 L614.58 34.56 L615.06 39.14 L615.42 46.34 L615.78 58.3 L616.14 47.85 L616.5 34.35 L616.98 34.42 L617.46 36.74 L617.93 35.76 L618.41 31.95 L618.89 34.76 L619.37 39.14 L619.85 38.17 L620.33 34.35 L620.81 40.4 L621.29 48.72 L621.77 58.72 L622.25 64.29 L622.6 48.4 L622.96 36.74 L623.32 40.7 L623.68 41.53 L624.16 34.77 L624.64 29.56 L625.12 31.9 L625.6 31.95 L626.08 27.23 L626.56 24.77 L627.04 31.82 L627.51 36.74 L627.99 32.04 L628.47 29.56 L628.95 38.92 L629.43 43.93 L629.91 38.18 L630.39 34.35 L630.87 37.55 L631.35 39.14 L631.75 35.26 L632.15 37.61 L632.54 34.35 L632.94 34.36 L633.34 40.53 L633.74 41.53 L634.14 35.71 L634.54 36.17 L634.94 30.75 L635.34 29.11 L635.74 33.52 L636.14 31.95 L636.54 30.8 L636.94 33.63 L637.34 33.15 L637.73 31.68 L638.13 34.54 L638.53 31.95 L638.93 32.12 L639.33 39.02 L639.73 39.14 L640.13 40.25 L640.53 45.75 L640.93 46.32 L641.33 39.47 L641.73 38.54 L642.13 31.95 L642.52 30.66 L642.92 35.16 L643.32 34.35 L643.72 34.92 L644.12 41.01 L644.52 41.53 L644.88 39.16 L645.24 39.14 L645.72 47.4 L646.2 51.11 L646.56 51.18 L646.92 55.9 L647.28 59.74 L647.63 61.89 L648.11 53.51 L648.51 48.76 L648.91 51.05 L649.31 46.32 L649.71 40.49 L650.11 39.13 L650.51 34.35 L650.91 31.32 L651.31 33.68 L651.71 31.95 L652.11 30.4 L652.5 35.39 L652.9 34.35 L653.3 33.92 L653.7 36.15 L654.1 35.54 L654.5 32.56 L654.9 34.83 L655.3 31.95 L655.7 31.57 L656.1 37.42 L656.5 36.74 L656.9 36.45 L657.3 39.06 L657.69 39.14 L658.09 37.67 L658.49 41.48 L658.89 41.53 L659.25 42.93 L659.61 48.72 L660.09 52.03 L660.57 53.51 L661.05 44.24 L661.53 39.14 L662.01 38.78 L662.49 34.35 L662.88 35.35 L663.28 42.38 L663.68 43.93 L664.08 40.93 L664.48 43.39 L664.88 41.53 L665.28 38.89 L665.68 41.21 L666.08 39.14 L666.48 32.93 L666.88 33.17 L667.28 27.16 L667.63 23.85 L667.99 23.57 L668.35 25.17 L668.71 23.57 L669.19 23.4 L669.67 24.77 L670.15 24.35 L670.63 22.37 L671.11 21.85 L671.59 24.77 L672.07 48.72 L672.54 44.27 L673.02 36.74 L673.5 36.96 L673.98 41.53 L674.46 42.08 L674.94 39.14 L675.42 35.79 L675.9 34.35 L676.38 39.27 L676.86 41.53 L677.34 37.13 L677.81 36.74 L678.17 40.14 L678.53 39.6 L678.89 44.26 L679.25 43.93 L679.73 37.03 L680.21 34.35 L680.69 40 L681.17 43.93" fill="none" stroke="#000" stroke-opacity="0.1" stroke-width="2.0" stroke-linejoin="round"/>
<path d="M381.59 78.66 L382.31 72.67 L382.79 77.46 L383.75 63.09 L384.71 53.51 L385.19 69.08 L385.9 58.3 L386.38 48.72 L387.1 61.89 L388.06 60.69 L389.02 65.49 L389.98 63.09 L390.93 67.88 L391.41 78.66 L391.89 63.09 L392.85 64.29 L393.33 60.96 L393.81 59.5 L394.29 62.04 L394.77 63.09 L395.17 58.74 L395.56 57.52 L395.96 53.51 L396.32 45.63 L396.68 39.14 L397.16 53.47 L397.64 65.49 L398 74.98 L398.36 88.24 L398.72 67.8 L399.08 43.93 L399.56 41.06 L400.04 41.53 L400.4 47.23 L400.75 51.11 L401.11 43.77 L401.47 39.14 L401.95 42.52 L402.43 43.93 L402.91 37.7 L403.39 33.15 L403.87 50.07 L404.35 65.49 L404.83 55 L405.31 46.32 L405.78 44.63 L406.26 39.14 L406.74 36.18 L407.22 36.74 L407.7 44.46 L408.18 48.72 L408.66 50.59 L409.14 55.9 L409.54 57.57 L409.94 56.47 L410.34 58.3 L410.73 58.98 L411.13 55.08 L411.53 55.9 L411.93 60.1 L412.33 58.86 L412.73 63.09 L413.93 70.28 L414.65 49.92 L415.6 59.5 L416.32 65.49 L417.52 72.67 L418.72 58.3 L419.92 66.68 L421.11 63.09 L422.31 49.92 L423.03 71.47 L423.99 60.69 L424.95 65.49 L425.9 71.47 L427.1 59.5 L428.3 65.49 L429.5 63.09 L430.69 67.88 L431.89 66.68 L433.09 57.1 L434.29 48.72 L435.01 65.49 L435.96 59.5 L436.68 65.85 L437.4 71.47 L438.36 51.11 L439.08 77.46 L439.8 61.89 L440.75 59.5 L441.71 61.89 L442.67 64.29 L443.39 67.88 L444.11 85.84 L445.07 67.88 L446.02 58.3 L446.98 57.1 L447.94 59.5 L448.9 65.49 L449.86 67.88 L450.81 85.84 L451.77 63.09 L452.73 64.29 L453.69 58.3 L454.65 59.5 L455.84 57.1 L456.2 65.49 L457.4 58.3 L458.59 61.89 L459.79 57.1 L460.99 61.89 L462.19 58.3 L463.38 70.28 L464.58 67.88 L465.78 49.92 L466.5 72.67 L467.46 51.11 L468.41 63.09 L469.37 47.52 L470.33 65.49 L471.29 55.9 L472.25 77.46 L472.96 61.89 L474.16 53.51 L475.36 65.49 L476.56 55.9 L477.75 59.5 L478.95 58.3 L480.15 67.88 L480.87 53.51 L481.83 43.93 L482.54 30.75 L483.26 39.14 L484.22 49.92 L485.18 58.3 L486.14 76.26 L486.86 63.09 L487.57 70.28 L488.53 65.49 L489.73 75.07 L490.93 67.88 L492.13 77.46 L493.32 65.49 L494.52 70.28 L495.72 72.67 L496.92 67.88 L498.11 76.26 L499.31 72.67 L500.51 78.66 L501.71 71.47 L502.9 67.88 L504.1 72.67 L505.3 65.49 L506.5 60.69 L507.69 67.88 L508.89 64.29 L510.09 61.89 L511.29 65.49 L512.49 60.69 L513.68 67.88 L514.88 58.3 L516.08 63.09 L517.28 55.9 L518.47 53.51 L519.67 39.14 L520.63 17.58 L521.59 16.38 L522.54 34.35 L523.5 43.93 L524.46 55.9 L525.42 51.11 L526.38 60.69 L527.34 31.95 L528.05 67.88 L529.25 46.32 L530.45 55.9 L530.85 55.4 L531.25 58.89 L531.65 58.3 L532.16 75.07 L532.51 76.28 L532.87 79.86 L533.23 66.25 L533.59 51.11 L534.07 39.14 L534.43 53.57 L534.79 70.28 L535.15 64.34 L535.51 57.1 L535.87 57.18 L536.23 60.69 L536.71 65.92 L537.19 67.88 L537.66 51.11 L538.02 39.11 L538.38 29.56 L538.86 17.58 L539.22 26.88 L539.58 34.35 L540.06 27.87 L540.54 24.77 L541.02 27.23 L541.5 27.16 L541.98 23.11 L542.46 22.37 L542.81 29.97 L543.17 34.35 L543.53 25.98 L543.89 19.98 L544.37 29.42 L544.85 36.74 L545.21 51.02 L545.57 67.88 L545.93 55.79 L546.29 41.53 L546.77 22.37 L547.13 16.84 L547.49 12.79 L547.84 14.91 L548.2 15.19 L548.68 17.21 L549.16 22.37 L549.64 20.57 L550.12 17.58 L550.6 15.19 L551.08 13.99 L551.56 18.31 L552.04 19.98 L552.51 22.68 L552.99 27.16 L553.47 23.58 L553.95 17.58 L554.43 20.04 L554.91 24.77 L555.39 21.55 L555.87 16.38 L556.35 17.58 L556.83 22.37 L557.31 25.55 L557.78 27.16 L558.26 22.51 L558.74 19.98 L559.22 30.35 L559.7 39.14 L560.18 30.61 L560.66 24.77 L561.14 28.05 L561.62 29.56 L562.1 24.98 L562.57 22.37 L563.05 25.65 L563.53 25.96 L564.01 28.01 L564.49 31.95 L564.97 29.6 L565.45 24.77 L565.93 25.48 L566.41 29.56 L566.89 25.43 L567.37 19.98 L567.84 18.16 L568.32 17.58 L568.68 23.2 L569.04 27.16 L569.4 30.45 L569.76 36.74 L570.24 34.47 L570.72 29.56 L571.2 34.11 L571.68 40.34 L572.16 34.71 L572.63 27.16 L573.11 28.79 L573.59 31.95 L574.07 29.48 L574.55 24.77 L575.03 26.57 L575.51 29.56 L575.91 31.37 L576.31 28.69 L576.71 30.75 L577.11 31.3 L577.5 26.89 L577.9 27.16 L578.3 30.51 L578.7 29.79 L579.1 31.95 L579.5 32.46 L579.9 29.4 L580.3 30.75 L580.78 25.68 L581.26 17.58 L581.74 33.15 L582.22 43.93 L582.69 51.11 L583.17 41.53 L583.53 46.46 L583.89 53.51 L584.25 52.84 L584.61 48.72 L585.09 53.38 L585.57 60.69 L586.05 55.6 L586.53 46.32 L587.01 41.52 L587.49 39.14 L587.96 36.59 L588.44 31.95 L588.92 25.7 L589.4 22.37 L589.88 26.91 L590.36 29.56 L590.84 29.39 L591.32 31.95 L591.8 30.7 L592.28 24.77 L592.75 28.28 L593.23 34.35 L593.71 32.69 L594.19 29.56 L594.67 31.16 L595.15 34.35 L595.63 37.75 L596.11 39.14 L596.59 32.91 L597.07 30.75 L597.54 33.88 L598.02 34.35 L598.5 30.74 L598.98 29.56 L599.46 36.43 L599.94 41.53 L600.42 34.37 L600.9 31.95 L601.38 34.58 L601.86 34.35 L602.34 38.07 L602.81 43.93 L603.29 38.76 L603.77 31.95 L604.25 26.35 L604.73 22.37 L605.21 29.36 L605.69 34.35 L606.17 27.7 L606.65 24.77 L607.05 32.13 L607.45 36.75 L607.84 43.93 L608.35 36.74 L608.83 35.29 L609.31 30.75 L609.79 35.01 L610.27 41.53 L610.75 46.32 L611.23 46.32 L611.71 34.62 L612.19 24.77 L612.66 29.97 L613.14 31.95 L613.62 27.54 L614.1 27.16 L614.58 34.56 L615.06 39.14 L615.42 46.34 L615.78 58.3 L616.14 47.85 L616.5 34.35 L616.98 34.42 L617.46 36.74 L617.93 35.76 L618.41 31.95 L618.89 34.76 L619.37 39.14 L619.85 38.17 L620.33 34.35 L620.81 40.4 L621.29 48.72 L621.77 58.72 L622.25 64.29 L622.6 48.4 L622.96 36.74 L623.32 40.7 L623.68 41.53 L624.16 34.77 L624.64 29.56 L625.12 31.9 L625.6 31.95 L626.08 27.23 L626.56 24.77 L627.04 31.82 L627.51 36.74 L627.99 32.04 L628.47 29.56 L628.95 38.92 L629.43 43.93 L629.91 38.18 L630.39 34.35 L630.87 37.55 L631.35 39.14 L631.75 35.26 L632.15 37.61 L632.54 34.35 L632.94 34.36 L633.34 40.53 L633.74 41.53 L634.14 35.71 L634.54 36.17 L634.94 30.75 L635.34 29.11 L635.74 33.52 L636.14 31.95 L636.54 30.8 L636.94 33.63 L637.34 33.15 L637.73 31.68 L638.13 34.54 L638.53 31.95 L638.93 32.12 L639.33 39.02 L639.73 39.14 L640.13 40.25 L640.53 45.75 L640.93 46.32 L641.33 39.47 L641.73 38.54 L642.13 31.95 L642.52 30.66 L642.92 35.16 L643.32 34.35 L643.72 34.92 L644.12 41.01 L644.52 41.53 L644.88 39.16 L645.24 39.14 L645.72 47.4 L646.2 51.11 L646.56 51.18 L646.92 55.9 L647.28 59.74 L647.63 61.89 L648.11 53.51 L648.51 48.76 L648.91 51.05 L649.31 46.32 L649.71 40.49 L650.11 39.13 L650.51 34.35 L650.91 31.32 L651.31 33.68 L651.71 31.95 L652.11 30.4 L652.5 35.39 L652.9 34.35 L653.3 33.92 L653.7 36.15 L654.1 35.54 L654.5 32.56 L654.9 34.83 L655.3 31.95 L655.7 31.57 L656.1 37.42 L656.5 36.74 L656.9 36.45 L657.3 39.06 L657.69 39.14 L658.09 37.67 L658.49 41.48 L658.89 41.53 L659.25 42.93 L659.61 48.72 L660.09 52.03 L660.57 53.51 L661.05 44.24 L661.53 39.14 L662.01 38.78 L662.49 34.35 L662.88 35.35 L663.28 42.38 L663.68 43.93 L664.08 40.93 L664.48 43.39 L664.88 41.53 L665.28 38.89 L665.68 41.21 L666.08 39.14 L666.48 32.93 L666.88 33.17 L667.28 27.16 L667.63 23.85 L667.99 23.57 L668.35 25.17 L668.71 23.57 L669.19 23.4 L669.67 24.77 L670.15 24.35 L670.63 22.37 L671.11 21.85 L671.59 24.77 L672.07 48.72 L672.54 44.27 L673.02 36.74 L673.5 36.96 L673.98 41.53 L674.46 42.08 L674.94 39.14 L675.42 35.79 L675.9 34.35 L676.38 39.27 L676.86 41.53 L677.34 37.13 L677.81 36.74 L678.17 40.14 L678.53 39.6 L678.89 44.26 L679.25 43.93 L679.73 37.03 L680.21 34.35 L680.69 40 L681.17 43.93" fill="none" stroke="#333" stroke-width="0.85" stroke-linejoin="round"/>
<line x1="379.6" y1="10.4" x2="379.6" y2="90.5" stroke="#666" stroke-width="1.1"/>
<line x1="379.1" y1="90.5" x2="683.2" y2="90.5" stroke="#666" stroke-width="1.1"/>
<line x1="382.1" y1="90.5" x2="382.1" y2="92.5" stroke="#666" stroke-width="1"/>
<text x="382.1" y="102.8" text-anchor="middle" font-size="9.4">0</text>
<line x1="441.76" y1="90.5" x2="441.76" y2="92.5" stroke="#666" stroke-width="1"/>
<text x="441.76" y="102.8" text-anchor="middle" font-size="9.4">10</text>
<line x1="501.42" y1="90.5" x2="501.42" y2="92.5" stroke="#666" stroke-width="1"/>
<text x="501.42" y="102.8" text-anchor="middle" font-size="9.4">20</text>
<line x1="561.08" y1="90.5" x2="561.08" y2="92.5" stroke="#666" stroke-width="1"/>
<text x="561.08" y="102.8" text-anchor="middle" font-size="9.4">30</text>
<line x1="620.74" y1="90.5" x2="620.74" y2="92.5" stroke="#666" stroke-width="1"/>
<text x="620.74" y="102.8" text-anchor="middle" font-size="9.4">40</text>
<line x1="680.4" y1="90.5" x2="680.4" y2="92.5" stroke="#666" stroke-width="1"/>
<text x="680.4" y="102.8" text-anchor="middle" font-size="9.4">50</text>
<text x="373.7" y="21.18" text-anchor="end" font-size="10.2">4</text>
<text x="373.7" y="38.24" text-anchor="end" font-size="10.2">2</text>
<text x="373.7" y="55.3" text-anchor="end" font-size="10.2">0</text>
<text x="373.7" y="72.36" text-anchor="end" font-size="10.2">-2</text>
<text x="373.7" y="89.42" text-anchor="end" font-size="10.2">-4</text>
<text x="533" y="115.9" text-anchor="middle" font-size="11.8">Distance(km)</text>
<text transform="translate(360,52) rotate(-90)" text-anchor="middle" font-size="9.9">Coseismic slip (m)</text>
<text x="379" y="7.1" font-size="9.4">P4</text>
<text x="670.3" y="6.8" font-size="9.4">P4</text>
<line x1="681.7" y1="1.5" x2="682.5" y2="-0.1" stroke="#333" stroke-width="0.8"/>
<line x1="379.2" y1="203.9" x2="683.2" y2="203.9" stroke="#b4b4b4" stroke-width="1.4"/>
<line x1="376.6" y1="203.9" x2="379.2" y2="203.9" stroke="#666" stroke-width="1"/>
<line x1="379.2" y1="195.34" x2="683.2" y2="195.34" stroke="#b4b4b4" stroke-width="1.4"/>
<line x1="376.6" y1="195.34" x2="379.2" y2="195.34" stroke="#666" stroke-width="1"/>
<line x1="379.2" y1="186.78" x2="683.2" y2="186.78" stroke="#b4b4b4" stroke-width="1.4"/>
<line x1="376.6" y1="186.78" x2="379.2" y2="186.78" stroke="#666" stroke-width="1"/>
<line x1="379.2" y1="178.22" x2="683.2" y2="178.22" stroke="#b4b4b4" stroke-width="1.4"/>
<line x1="376.6" y1="178.22" x2="379.2" y2="178.22" stroke="#666" stroke-width="1"/>
<line x1="379.2" y1="169.66" x2="683.2" y2="169.66" stroke="#b4b4b4" stroke-width="1.4"/>
<line x1="376.6" y1="169.66" x2="379.2" y2="169.66" stroke="#666" stroke-width="1"/>
<line x1="379.2" y1="161.1" x2="683.2" y2="161.1" stroke="#b4b4b4" stroke-width="1.4"/>
<line x1="376.6" y1="161.1" x2="379.2" y2="161.1" stroke="#666" stroke-width="1"/>
<line x1="379.2" y1="152.54" x2="683.2" y2="152.54" stroke="#b4b4b4" stroke-width="1.4"/>
<line x1="376.6" y1="152.54" x2="379.2" y2="152.54" stroke="#666" stroke-width="1"/>
<line x1="379.2" y1="143.98" x2="683.2" y2="143.98" stroke="#b4b4b4" stroke-width="1.4"/>
<line x1="376.6" y1="143.98" x2="379.2" y2="143.98" stroke="#666" stroke-width="1"/>
<line x1="379.2" y1="135.42" x2="683.2" y2="135.42" stroke="#b4b4b4" stroke-width="1.4"/>
<line x1="376.6" y1="135.42" x2="379.2" y2="135.42" stroke="#666" stroke-width="1"/>
<line x1="379.2" y1="126.86" x2="683.2" y2="126.86" stroke="#b4b4b4" stroke-width="1.4"/>
<line x1="376.6" y1="126.86" x2="379.2" y2="126.86" stroke="#666" stroke-width="1"/>
<line x1="379.2" y1="124.7" x2="683.2" y2="124.7" stroke="#999" stroke-width="1.3"/>
<line x1="683.2" y1="124.7" x2="683.2" y2="204.4" stroke="#999" stroke-width="1.1"/>
<path d="M381.5 163.9 L382 166.68 L382.5 160.47 L383 165.35 L383.5 160.91 L384 163.28 L384.5 159.92 L385 163.6 L385.5 158.96 L386 161.35 L386.5 157.87 L387 160.65 L387.5 156.24 L388 159.98 L388.5 159.64 L389 161.54 L389.5 159.18 L390 160.45 L390.5 158.08 L391 160.37 L391.5 154.68 L392 155.61 L392.5 152.16 L393 153.79 L393.5 152.23 L394 152.24 L394.5 146.38 L395 147.01 L395.5 144.88 L396 144.83 L396.5 141.57 L397 144.7 L397.5 140.46 L398 144.88 L398.5 141.55 L399 146.57 L399.5 140.2 L400 143.19 L400.5 142.68 L401 145.49 L401.5 149.36 L402 152.47 L402.5 148.53 L403 152.91 L403.5 150.87 L404 154.81 L404.5 151.54 L405 156.24 L405.5 150.72 L406 156.77 L406.5 152.76 L407 156.34 L407.5 152.94 L408 158.71 L408.5 152.9 L409 157.44 L409.5 154.52 L410 157.89 L410.5 153.5 L411 157.74 L411.5 151.85 L412 156.15 L412.5 151.37 L413 155.4 L413.5 150.97 L414 155.77 L414.5 151.52 L415 156.25 L415.5 150.93 L416 155.84 L416.5 151.26 L417 155.25 L417.5 150.45 L418 157.46 L418.5 152.57 L419 161.25 L419.5 156.74 L420 162.99 L420.5 159.32 L421 163.03 L421.5 163.35 L422 167.42 L422.5 163.25 L423 167.44 L423.5 162.39 L424 166.67 L424.5 162.32 L425 169.1 L425.5 162.38 L426 169.26 L426.5 168.61 L427 169.91 L427.5 164.35 L428 168.21 L428.5 164.11 L429 168.24 L429.5 165.84 L430 168.72 L430.5 164.76 L431 172.39 L431.5 167.18 L432 172.69 L432.5 166.6 L433 170.57 L433.5 165.02 L434 168.19 L434.5 163.23 L435 165.76 L435.5 165.53 L436 167.88 L436.5 162.66 L437 166.76 L437.5 166.36 L438 172.67 L438.5 168.72 L439 171.66 L439.5 169.1 L440 171.95 L440.5 167.17 L441 169.68 L441.5 165.85 L442 170.33 L442.5 162.26 L443 166.34 L443.5 161.29 L444 163.26 L444.5 157.88 L445 160.52 L445.5 154.97 L446 160.41 L446.5 156.15 L447 157.61 L447.5 154.6 L448 157.46 L448.5 153.89 L449 155.08 L449.5 154.07 L450 155.86 L450.5 152.93 L451 156.79 L451.5 153.54 L452 158.63 L452.5 153.65 L453 159.15 L453.5 155.01 L454 160 L454.5 154.86 L455 157.72 L455.5 155.73 L456 160.03 L456.5 157.23 L457 160.72 L457.5 160.16 L458 163.53 L458.5 158.39 L459 165.8 L459.5 164.04 L460 164.03 L460.5 158.86 L461 165.34 L461.5 161.18 L462 168.04 L462.5 161.11 L463 165.6 L463.5 160.24 L464 170.16 L464.5 165.45 L465 169.07 L465.5 164.86 L466 169.43 L466.5 166.59 L467 165.67 L467.5 160.99 L468 164.57 L468.5 160.49 L469 164.08 L469.5 160.15 L470 165.66 L470.5 159.79 L471 165.82 L471.5 161.54 L472 165.43 L472.5 164.2 L473 172.6 L473.5 160.57 L474 165.08 L474.5 161.03 L475 161.57 L475.5 159.56 L476 162.58 L476.5 155.2 L477 162.22 L477.5 161.7 L478 164.77 L478.5 160.53 L479 164.71 L479.5 161.05 L480 163.47 L480.5 161.24 L481 161.86 L481.5 159.56 L482 162.8 L482.5 161.52 L483 162.72 L483.5 159.18 L484 162.37 L484.5 158.76 L485 160.85 L485.5 156.13 L486 160.89 L486.5 156.66 L487 159.54 L487.5 154.5 L488 155.03 L488.5 152.25 L489 155.04 L489.5 151.03 L490 155.4 L490.5 152.14 L491 155.38 L491.5 148.97 L492 154.65 L492.5 150.18 L493 154.9 L493.5 150.57 L494 156.28 L494.5 149.29 L495 154.31 L495.5 151.96 L496 156.03 L496.5 151.74 L497 157.79 L497.5 153.85 L498 161.72 L498.5 152.71 L499 161.57 L499.5 162.77 L500 167.08 L500.5 165.98 L501 169 L501.5 166.78 L502 169.46 L502.5 169.21 L503 170.79 L503.5 169.24 L504 170.83 L504.5 168.32 L505 173.75 L505.5 173.08 L506 174.25 L506.5 169.54 L507 173.9 L507.5 175.29 L508 175.72 L508.5 175.3 L509 182.12 L509.5 178.75 L510 181.1 L510.5 179.38 L511 181 L511.5 176.58 L512 182.53 L512.5 175.79 L513 179.18 L513.5 175.95 L514 182.26 L514.5 175.94 L515 180.01 L515.5 176.36 L516 179.16 L516.5 175.99 L517 179.04 L517.5 174.71 L518 181.32 L518.5 176.28 L519 179.94 L519.5 175.96 L520 180.9 L520.5 174.53 L521 180.29 L521.5 174.94 L522 177.4 L522.5 174.11 L523 179.09 L523.5 174.4 L524 177.02 L524.5 175.35 L525 180.53 L525.5 177.53 L526 179.8 L526.5 174.85 L527 179.31 L527.5 178.39 L528 180.9 L528.5 177.34 L529 181.36 L529.5 179.67 L530 184.99 L530.5 180.27 L531 182.93 L531.5 180.99 L532 184.96 L532.5 182.77 L533 184.24 L533.5 181.21 L534 184.65 L534.5 180.54 L535 183.13 L535.5 178.54 L536 180.11 L536.5 176.01 L537 179.67 L537.5 171.77 L538 165.77 L538.5 161.22 L539 158.82 L539.5 154.88 L540 151.42 L540.5 148.35 L541 145.6 L541.5 141.36 L542 144.86 L542.5 139.97 L543 142.82 L543.5 138.53 L544 143.05 L544.5 138.89 L545 141.87 L545.5 138.8 L546 143.42 L546.5 138.83 L547 141.94 L547.5 139.22 L548 143.05 L548.5 141.55 L549 146.77 L549.5 145.99 L550 150.33 L550.5 145.59 L551 150.89 L551.5 146.6 L552 150.31 L552.5 146.37 L553 152.63 L553.5 151.05 L554 154.09 L554.5 151.8 L555 156.17 L555.5 152.23 L556 157.06 L556.5 154.56 L557 160.02 L557.5 154.98 L558 160.6 L558.5 156.75 L559 162.88 L559.5 157.18 L560 161.05 L560.5 156.71 L561 161.87 L561.5 157.2 L562 160.99 L562.5 158.15 L563 159.85 L563.5 156.63 L564 159.81 L564.5 154.49 L565 158.99 L565.5 155.43 L566 156.49 L566.5 152.79 L567 153.48 L567.5 149.57 L568 149.26 L568.5 146.35 L569 148.14 L569.5 143.51 L570 147.98 L570.5 142.9 L571 148.23 L571.5 142.66 L572 146.86 L572.5 141.71 L573 146.74 L573.5 142.09 L574 144.9 L574.5 142.1 L575 145.57 L575.5 142.7 L576 148.49 L576.5 144.32 L577 147.67 L577.5 143.42 L578 149.23 L578.5 145.17 L579 150.07 L579.5 145.84 L580 151.99 L580.5 146.62 L581 150.35 L581.5 147.46 L582 151.77 L582.5 150.19 L583 155.17 L583.5 155.45 L584 160.08 L584.5 158.49 L585 161.55 L585.5 159.66 L586 164.53 L586.5 159.63 L587 162.6 L587.5 158.24 L588 163.35 L588.5 169.07 L589 172.71 L589.5 167.67 L590 170.89 L590.5 167.41 L591 171.7 L591.5 169 L592 172.1 L592.5 152.12 L593 154.65 L593.5 150.85 L594 151.69 L594.5 148.88 L595 151.67 L595.5 150.07 L596 152.48 L596.5 150.86 L597 154.86 L597.5 152.3 L598 155.13 L598.5 150.09 L599 156.12 L599.5 150.84 L600 153.46 L600.5 149.53 L601 153.01 L601.5 150.96 L602 154.69 L602.5 156.88 L603 160.78 L603.5 156.17 L604 166.63 L604.5 164.18 L605 167.9 L605.5 162.04 L606 167.53 L606.5 163.37 L607 167.59 L607.5 162.91 L608 167.76 L608.5 162.57 L609 167.37 L609.5 163.19 L610 167.35 L610.5 163.54 L611 167.21 L611.5 160.97 L612 165.53 L612.5 161.32 L613 164.39 L613.5 157.31 L614 162.63 L614.5 158.05 L615 161 L615.5 154.06 L616 154.35 L616.5 153.41 L617 158.2 L617.5 154.38 L618 157.24 L618.5 153.44 L619 157.65 L619.5 152.71 L620 156.39 L620.5 156.6 L621 159.83 L621.5 157.23 L622 159.76 L622.5 156.94 L623 159.17 L623.5 157.02 L624 160.84 L624.5 156.83 L625 158.98 L625.5 158.1 L626 161.87 L626.5 159.62 L627 162.41 L627.5 158.25 L628 166.48 L628.5 161 L629 169.25 L629.5 167.65 L630 172.37 L630.5 166.78 L631 171.47 L631.5 166.97 L632 170.85 L632.5 169.08 L633 170.59 L633.5 168.82 L634 172.18 L634.5 168.93 L635 171.1 L635.5 168.91 L636 167.47 L636.5 159.79 L637 164.85 L637.5 156.91 L638 156.71 L638.5 151.37 L639 155.67 L639.5 151.74 L640 155.73 L640.5 151.01 L641 155.45 L641.5 151.56 L642 154.67 L642.5 151.09 L643 155.11 L643.5 151.98 L644 155.09 L644.5 151.42 L645 151.5 L645.5 144.78 L646 148.82 L646.5 145 L647 149.71 L647.5 144.14 L648 149.55 L648.5 149.53 L649 151.21 L649.5 150.8 L650 149.61 L650.5 153.13 L651 158.36 L651.5 152.52 L652 157.8 L652.5 156.83 L653 158.72 L653.5 156.89 L654 160.58 L654.5 155.01 L655 160.59 L655.5 157.24 L656 160.86 L656.5 156.12 L657 161.35 L657.5 155.97 L658 161 L658.5 155.09 L659 157.77 L659.5 154.36 L660 159.58 L660.5 155.74 L661 160.48 L661.5 156.38 L662 159.54 L662.5 154.31 L663 157.08 L663.5 154.41 L664 156.39 L664.5 153.59 L665 156.41 L665.5 154.31 L666 158.53 L666.5 156.79 L667 160.21 L667.5 156.33 L668 159.53 L668.5 156.53 L669 161.86 L669.5 159.56 L670 161.36 L670.5 158.27 L671 160.46 L671.5 157.64 L672 163.76 L672.5 159.56 L673 165.77 L673.5 160.08 L674 164.19 L674.5 160.95 L675 166.14 L675.5 162.81 L676 166.04 L676.5 164.36 L677 167.6 L677.5 164.33 L678 167.03 L678.5 163.5 L679 167.47 L679.5 163.93 L680 167.11 L680.5 163.06 L681 165.76" fill="none" stroke="#6a6a6a" stroke-width="0.75" stroke-linejoin="round"/>
<path d="M381.59 163.92 L382.31 172.3 L382.79 155.53 L383.51 186.67 L384.23 157.93 L384.71 169.9 L385.19 143.56 L385.9 172.3 L386.62 160.32 L387.1 143.56 L387.82 169.9 L388.54 157.93 L389.26 161.52 L389.98 153.14 L390.69 149.54 L391.41 153.14 L392.37 167.51 L393.33 172.3 L394.05 162.72 L394.77 145.95 L395.49 131.58 L396.2 126.79 L397.16 131.58 L398.12 135.17 L399.08 138.77 L400.04 153.14 L400.75 141.16 L401.47 160.32 L402.43 150.74 L403.39 153.14 L404.35 143.56 L405.31 150.74 L406.26 169.9 L407.22 155.53 L408.18 189.07 L409.14 169.9 L410.1 153.14 L411.05 155.53 L412.01 169.9 L412.97 148.35 L413.93 129.19 L414.65 136.37 L415.37 145.95 L416.32 153.14 L417.04 186.67 L418 160.32 L418.72 169.9 L419.68 145.95 L420.63 155.53 L421.59 174.69 L422.55 165.11 L423.51 160.32 L424.47 150.74 L425.43 169.9 L426.38 165.11 L427.34 178.29 L428.3 179.49 L429.26 169.9 L430.22 165.11 L431.17 169.9 L432.13 157.93 L433.09 162.72 L434.05 150.74 L435.01 179.49 L435.96 169.9 L436.92 165.11 L437.88 179.49 L438.84 162.72 L439.8 169.9 L440.75 143.56 L441.71 172.3 L442.67 189.07 L443.63 169.9 L444.59 165.11 L445.54 157.93 L446.5 153.14 L447.46 150.74 L448.42 155.53 L449.38 160.32 L450.34 153.14 L451.29 141.16 L452.25 153.14 L453.21 169.9 L454.17 155.53 L455.13 191.46 L456.08 157.93 L456.92 157.93 L457.87 169.9 L458.83 155.53 L459.79 143.56 L460.75 167.51 L461.71 179.49 L462.66 162.72 L463.62 186.67 L464.58 160.32 L465.54 167.51 L466.5 157.93 L467.46 162.72 L468.41 181.88 L468.89 199.84 L469.85 169.9 L470.81 162.72 L471.77 155.53 L472.72 150.74 L473.68 169.9 L474.64 157.93 L475.6 162.72 L476.56 190.26 L477.51 169.9 L478.47 157.93 L479.43 153.14 L480.39 174.69 L481.35 153.14 L482.31 162.72 L483.26 177.09 L484.22 153.14 L485.18 157.93 L486.14 169.9 L487.1 162.72 L488.05 153.14 L489.01 157.93 L489.97 150.74 L490.93 153.14 L491.89 150.74 L492.84 154.34 L493.8 148.35 L494.76 138.77 L495.72 150.74 L496.68 167.51 L497.63 153.14 L498.59 155.53 L499.55 169.9 L500.51 186.67 L501.47 165.11 L502.43 169.9 L503.38 153.14 L504.34 167.51 L505.3 174.69 L506.26 181.88 L507.22 196.25 L508.17 165.11 L509.13 186.67 L510.09 193.86 L511.05 169.9 L512.01 179.49 L512.96 145.95 L513.92 184.28 L514.88 177.09 L515.84 169.9 L516.8 189.07 L517.75 177.09 L518.71 184.28 L519.67 167.51 L520.63 181.88 L521.59 169.9 L522.54 179.49 L523.5 189.07 L524.46 169.9 L525.42 172.3 L526.38 174.69 L527.34 177.09 L528.29 189.07 L529.25 179.49 L530.21 181.88 L531.17 177.09 L532.13 189.07 L532.87 191.46 L533.83 181.88 L534.79 196.25 L535.75 179.49 L536.71 189.07 L537.66 177.09 L538.38 157.93 L539.1 143.56 L539.82 169.9 L540.54 157.93 L541.02 141.16 L541.98 143.56 L542.93 136.37 L543.89 141.16 L544.85 131.58 L545.81 126.79 L546.77 125.59 L547.72 133.98 L548.68 148.35 L549.16 169.9 L549.88 153.14 L550.6 145.95 L551.56 153.14 L552.51 141.16 L553.47 148.35 L554.43 172.3 L555.15 150.74 L555.87 143.56 L556.83 155.53 L557.78 157.93 L558.74 160.32 L559.7 179.49 L560.66 165.11 L561.62 157.93 L562.57 162.72 L563.53 160.32 L564.73 155.53 L565.93 145.95 L567.13 126.79 L567.84 150.74 L568.8 153.14 L569.76 157.93 L570.72 141.16 L571.68 145.95 L572.63 142.36 L573.59 144.75 L574.55 143.56 L575.51 148.35 L576.47 141.16 L577.43 136.37 L578.38 153.14 L579.34 157.93 L580.3 148.35 L581.26 162.72 L582.22 145.95 L583.17 160.32 L584.13 150.74 L585.09 133.98 L586.05 145.95 L587.01 169.9 L587.49 179.49 L588.44 172.3 L589.4 179.49 L590.36 169.9 L591.32 150.74 L592.28 148.35 L593.23 181.88 L594.19 153.14 L595.15 136.37 L596.11 145.95 L597.07 153.14 L598.02 150.74 L598.98 141.16 L599.94 157.93 L600.9 165.11 L601.86 169.9 L602.81 157.93 L603.77 143.56 L604.73 131.58 L605.69 150.74 L606.65 165.11 L607.4 184.28 L608.11 196.25 L608.83 177.09 L609.79 165.11 L610.99 167.51 L612.19 160.32 L613.38 162.72 L614.1 148.35 L615.06 145.95 L615.78 160.32 L616.5 150.74 L617.46 165.11 L618.41 153.14 L618.89 138.77 L619.37 172.3 L620.33 153.14 L621.29 157.93 L622.25 162.72 L623.2 167.51 L624.16 153.14 L625.12 160.32 L626.08 153.14 L627.04 157.93 L627.99 167.51 L628.95 153.14 L630.15 169.9 L631.35 169.9 L632.54 172.3 L633.26 181.88 L633.74 195.05 L634.7 169.9 L635.66 155.53 L636.62 150.74 L637.57 153.14 L638.05 136.37 L639.01 162.72 L639.97 179.49 L640.93 153.14 L642.13 143.56 L642.84 141.16 L643.8 155.53 L644.52 169.9 L645.24 145.95 L646.2 174.69 L647.16 141.16 L648.11 133.98 L649.07 169.9 L650.03 145.95 L650.99 157.93 L651.95 148.35 L652.43 126.79 L653.38 169.9 L654.34 155.53 L655.3 173.5 L656.26 160.32 L657.22 157.93 L658.17 179.49 L659.13 155.53 L660.09 162.72 L661.05 155.53 L662.01 150.74 L662.96 153.14 L663.92 150.74 L664.88 189.07 L665.6 202.24 L666.32 157.93 L667.28 154.34 L668.23 157.93 L669.19 155.53 L670.15 160.32 L671.11 157.93 L672.07 162.72 L673.26 165.11 L674.46 162.72 L675.66 165.11 L676.86 167.51 L677.81 172.3 L678.77 162.72 L679.73 165.11 L680.69 159.13" fill="none" stroke="#000" stroke-opacity="0.1" stroke-width="2.0" stroke-linejoin="round"/>
<path d="M381.59 163.92 L382.31 172.3 L382.79 155.53 L383.51 186.67 L384.23 157.93 L384.71 169.9 L385.19 143.56 L385.9 172.3 L386.62 160.32 L387.1 143.56 L387.82 169.9 L388.54 157.93 L389.26 161.52 L389.98 153.14 L390.69 149.54 L391.41 153.14 L392.37 167.51 L393.33 172.3 L394.05 162.72 L394.77 145.95 L395.49 131.58 L396.2 126.79 L397.16 131.58 L398.12 135.17 L399.08 138.77 L400.04 153.14 L400.75 141.16 L401.47 160.32 L402.43 150.74 L403.39 153.14 L404.35 143.56 L405.31 150.74 L406.26 169.9 L407.22 155.53 L408.18 189.07 L409.14 169.9 L410.1 153.14 L411.05 155.53 L412.01 169.9 L412.97 148.35 L413.93 129.19 L414.65 136.37 L415.37 145.95 L416.32 153.14 L417.04 186.67 L418 160.32 L418.72 169.9 L419.68 145.95 L420.63 155.53 L421.59 174.69 L422.55 165.11 L423.51 160.32 L424.47 150.74 L425.43 169.9 L426.38 165.11 L427.34 178.29 L428.3 179.49 L429.26 169.9 L430.22 165.11 L431.17 169.9 L432.13 157.93 L433.09 162.72 L434.05 150.74 L435.01 179.49 L435.96 169.9 L436.92 165.11 L437.88 179.49 L438.84 162.72 L439.8 169.9 L440.75 143.56 L441.71 172.3 L442.67 189.07 L443.63 169.9 L444.59 165.11 L445.54 157.93 L446.5 153.14 L447.46 150.74 L448.42 155.53 L449.38 160.32 L450.34 153.14 L451.29 141.16 L452.25 153.14 L453.21 169.9 L454.17 155.53 L455.13 191.46 L456.08 157.93 L456.92 157.93 L457.87 169.9 L458.83 155.53 L459.79 143.56 L460.75 167.51 L461.71 179.49 L462.66 162.72 L463.62 186.67 L464.58 160.32 L465.54 167.51 L466.5 157.93 L467.46 162.72 L468.41 181.88 L468.89 199.84 L469.85 169.9 L470.81 162.72 L471.77 155.53 L472.72 150.74 L473.68 169.9 L474.64 157.93 L475.6 162.72 L476.56 190.26 L477.51 169.9 L478.47 157.93 L479.43 153.14 L480.39 174.69 L481.35 153.14 L482.31 162.72 L483.26 177.09 L484.22 153.14 L485.18 157.93 L486.14 169.9 L487.1 162.72 L488.05 153.14 L489.01 157.93 L489.97 150.74 L490.93 153.14 L491.89 150.74 L492.84 154.34 L493.8 148.35 L494.76 138.77 L495.72 150.74 L496.68 167.51 L497.63 153.14 L498.59 155.53 L499.55 169.9 L500.51 186.67 L501.47 165.11 L502.43 169.9 L503.38 153.14 L504.34 167.51 L505.3 174.69 L506.26 181.88 L507.22 196.25 L508.17 165.11 L509.13 186.67 L510.09 193.86 L511.05 169.9 L512.01 179.49 L512.96 145.95 L513.92 184.28 L514.88 177.09 L515.84 169.9 L516.8 189.07 L517.75 177.09 L518.71 184.28 L519.67 167.51 L520.63 181.88 L521.59 169.9 L522.54 179.49 L523.5 189.07 L524.46 169.9 L525.42 172.3 L526.38 174.69 L527.34 177.09 L528.29 189.07 L529.25 179.49 L530.21 181.88 L531.17 177.09 L532.13 189.07 L532.87 191.46 L533.83 181.88 L534.79 196.25 L535.75 179.49 L536.71 189.07 L537.66 177.09 L538.38 157.93 L539.1 143.56 L539.82 169.9 L540.54 157.93 L541.02 141.16 L541.98 143.56 L542.93 136.37 L543.89 141.16 L544.85 131.58 L545.81 126.79 L546.77 125.59 L547.72 133.98 L548.68 148.35 L549.16 169.9 L549.88 153.14 L550.6 145.95 L551.56 153.14 L552.51 141.16 L553.47 148.35 L554.43 172.3 L555.15 150.74 L555.87 143.56 L556.83 155.53 L557.78 157.93 L558.74 160.32 L559.7 179.49 L560.66 165.11 L561.62 157.93 L562.57 162.72 L563.53 160.32 L564.73 155.53 L565.93 145.95 L567.13 126.79 L567.84 150.74 L568.8 153.14 L569.76 157.93 L570.72 141.16 L571.68 145.95 L572.63 142.36 L573.59 144.75 L574.55 143.56 L575.51 148.35 L576.47 141.16 L577.43 136.37 L578.38 153.14 L579.34 157.93 L580.3 148.35 L581.26 162.72 L582.22 145.95 L583.17 160.32 L584.13 150.74 L585.09 133.98 L586.05 145.95 L587.01 169.9 L587.49 179.49 L588.44 172.3 L589.4 179.49 L590.36 169.9 L591.32 150.74 L592.28 148.35 L593.23 181.88 L594.19 153.14 L595.15 136.37 L596.11 145.95 L597.07 153.14 L598.02 150.74 L598.98 141.16 L599.94 157.93 L600.9 165.11 L601.86 169.9 L602.81 157.93 L603.77 143.56 L604.73 131.58 L605.69 150.74 L606.65 165.11 L607.4 184.28 L608.11 196.25 L608.83 177.09 L609.79 165.11 L610.99 167.51 L612.19 160.32 L613.38 162.72 L614.1 148.35 L615.06 145.95 L615.78 160.32 L616.5 150.74 L617.46 165.11 L618.41 153.14 L618.89 138.77 L619.37 172.3 L620.33 153.14 L621.29 157.93 L622.25 162.72 L623.2 167.51 L624.16 153.14 L625.12 160.32 L626.08 153.14 L627.04 157.93 L627.99 167.51 L628.95 153.14 L630.15 169.9 L631.35 169.9 L632.54 172.3 L633.26 181.88 L633.74 195.05 L634.7 169.9 L635.66 155.53 L636.62 150.74 L637.57 153.14 L638.05 136.37 L639.01 162.72 L639.97 179.49 L640.93 153.14 L642.13 143.56 L642.84 141.16 L643.8 155.53 L644.52 169.9 L645.24 145.95 L646.2 174.69 L647.16 141.16 L648.11 133.98 L649.07 169.9 L650.03 145.95 L650.99 157.93 L651.95 148.35 L652.43 126.79 L653.38 169.9 L654.34 155.53 L655.3 173.5 L656.26 160.32 L657.22 157.93 L658.17 179.49 L659.13 155.53 L660.09 162.72 L661.05 155.53 L662.01 150.74 L662.96 153.14 L663.92 150.74 L664.88 189.07 L665.6 202.24 L666.32 157.93 L667.28 154.34 L668.23 157.93 L669.19 155.53 L670.15 160.32 L671.11 157.93 L672.07 162.72 L673.26 165.11 L674.46 162.72 L675.66 165.11 L676.86 167.51 L677.81 172.3 L678.77 162.72 L679.73 165.11 L680.69 159.13" fill="none" stroke="#333" stroke-width="0.8" stroke-linejoin="round"/>
<line x1="379.2" y1="124.7" x2="379.2" y2="204.4" stroke="#666" stroke-width="1.1"/>
<line x1="378.7" y1="204.4" x2="683.2" y2="204.4" stroke="#666" stroke-width="1.1"/>
<line x1="382" y1="204.4" x2="382" y2="206.4" stroke="#666" stroke-width="1"/>
<text x="382" y="221.5" text-anchor="middle" font-size="9.4">0</text>
<line x1="441.68" y1="204.4" x2="441.68" y2="206.4" stroke="#666" stroke-width="1"/>
<text x="441.68" y="221.5" text-anchor="middle" font-size="9.4">10</text>
<line x1="501.36" y1="204.4" x2="501.36" y2="206.4" stroke="#666" stroke-width="1"/>
<text x="501.36" y="221.5" text-anchor="middle" font-size="9.4">20</text>
<line x1="561.04" y1="204.4" x2="561.04" y2="206.4" stroke="#666" stroke-width="1"/>
<text x="561.04" y="221.5" text-anchor="middle" font-size="9.4">30</text>
<line x1="620.72" y1="204.4" x2="620.72" y2="206.4" stroke="#666" stroke-width="1"/>
<text x="620.72" y="221.5" text-anchor="middle" font-size="9.4">40</text>
<line x1="680.4" y1="204.4" x2="680.4" y2="206.4" stroke="#666" stroke-width="1"/>
<text x="680.4" y="221.5" text-anchor="middle" font-size="9.4">50</text>
<text x="373.7" y="131.26" text-anchor="end" font-size="10.2">4</text>
<text x="373.7" y="148.38" text-anchor="end" font-size="10.2">2</text>
<text x="373.7" y="165.5" text-anchor="end" font-size="10.2">0</text>
<text x="373.7" y="182.62" text-anchor="end" font-size="10.2">-2</text>
<text x="373.7" y="199.74" text-anchor="end" font-size="10.2">-4</text>
<text x="533.1" y="233.8" text-anchor="middle" font-size="11.8">Distance(km)</text>
<text transform="translate(360,159.9) rotate(-90)" text-anchor="middle" font-size="9.9">Coseismic slip (m)</text>
<text x="377.8" y="121.5" font-size="9.4">P5</text>
<text x="670.6" y="120.8" font-size="9.4">P5</text>
<line x1="682" y1="115.5" x2="682.8" y2="113.9" stroke="#333" stroke-width="0.8"/>
<line x1="379.2" y1="324.9" x2="683" y2="324.9" stroke="#b4b4b4" stroke-width="1.4"/>
<line x1="376.6" y1="324.9" x2="379.2" y2="324.9" stroke="#666" stroke-width="1"/>
<line x1="379.2" y1="315.5" x2="683" y2="315.5" stroke="#b4b4b4" stroke-width="1.4"/>
<line x1="376.6" y1="315.5" x2="379.2" y2="315.5" stroke="#666" stroke-width="1"/>
<line x1="379.2" y1="306.3" x2="683" y2="306.3" stroke="#b4b4b4" stroke-width="1.4"/>
<line x1="376.6" y1="306.3" x2="379.2" y2="306.3" stroke="#666" stroke-width="1"/>
<line x1="379.2" y1="297.4" x2="683" y2="297.4" stroke="#b4b4b4" stroke-width="1.4"/>
<line x1="376.6" y1="297.4" x2="379.2" y2="297.4" stroke="#666" stroke-width="1"/>
<line x1="379.2" y1="288.4" x2="683" y2="288.4" stroke="#b4b4b4" stroke-width="1.4"/>
<line x1="376.6" y1="288.4" x2="379.2" y2="288.4" stroke="#666" stroke-width="1"/>
<line x1="379.2" y1="279.2" x2="683" y2="279.2" stroke="#b4b4b4" stroke-width="1.4"/>
<line x1="376.6" y1="279.2" x2="379.2" y2="279.2" stroke="#666" stroke-width="1"/>
<line x1="379.2" y1="269.4" x2="683" y2="269.4" stroke="#b4b4b4" stroke-width="1.4"/>
<line x1="376.6" y1="269.4" x2="379.2" y2="269.4" stroke="#666" stroke-width="1"/>
<line x1="379.2" y1="260.3" x2="683" y2="260.3" stroke="#b4b4b4" stroke-width="1.4"/>
<line x1="376.6" y1="260.3" x2="379.2" y2="260.3" stroke="#666" stroke-width="1"/>
<line x1="379.2" y1="251.1" x2="683" y2="251.1" stroke="#b4b4b4" stroke-width="1.4"/>
<line x1="376.6" y1="251.1" x2="379.2" y2="251.1" stroke="#666" stroke-width="1"/>
<line x1="379.2" y1="248.7" x2="683" y2="248.7" stroke="#999" stroke-width="1.3"/>
<line x1="683" y1="248.7" x2="683" y2="332.4" stroke="#999" stroke-width="1.1"/>
<path d="M382.5 289.87 L383 292.86 L383.5 288.07 L384 292.42 L384.5 288.96 L385 291.5 L385.5 290.15 L386 294.19 L386.5 289.52 L387 296.06 L387.5 288.33 L388 291.9 L388.5 288.24 L389 291.98 L389.5 285.68 L390 290.15 L390.5 284.26 L391 285.78 L391.5 284.14 L392 289.05 L392.5 286.7 L393 290.4 L393.5 291.74 L394 296.56 L394.5 291.89 L395 297.06 L395.5 295.42 L396 298.52 L396.5 295.88 L397 298.4 L397.5 296.53 L398 301.07 L398.5 297.53 L399 302.89 L399.5 300.42 L400 303.75 L400.5 300.68 L401 304.17 L401.5 301.85 L402 307.17 L402.5 302.98 L403 305.14 L403.5 302.9 L404 305.39 L404.5 300.02 L405 303 L405.5 299.54 L406 304.72 L406.5 303.55 L407 305.39 L407.5 298.96 L408 304.77 L408.5 299.83 L409 300.64 L409.5 296.66 L410 296.44 L410.5 292.96 L411 293.01 L411.5 290.82 L412 294.46 L412.5 290.06 L413 291.63 L413.5 287.12 L414 290.56 L414.5 289.66 L415 292.54 L415.5 286.64 L416 291.38 L416.5 286.37 L417 290.27 L417.5 288.38 L418 293.87 L418.5 289.73 L419 294.22 L419.5 290.69 L420 293.09 L420.5 290.61 L421 295.33 L421.5 293.19 L422 294.71 L422.5 291.23 L423 298.9 L423.5 292.91 L424 293.38 L424.5 286.97 L425 294.84 L425.5 288.35 L426 290.17 L426.5 288.56 L427 293.82 L427.5 291.38 L428 293.44 L428.5 293.04 L429 300.01 L429.5 297.95 L430 298.37 L430.5 291.36 L431 293.9 L431.5 287.24 L432 295.03 L432.5 292.74 L433 294.4 L433.5 292.35 L434 295.78 L434.5 292.29 L435 297.47 L435.5 297.37 L436 301.27 L436.5 300.88 L437 305 L437.5 302.2 L438 305.32 L438.5 300.83 L439 304.81 L439.5 295.52 L440 300.32 L440.5 295.61 L441 299.97 L441.5 300.97 L442 304.89 L442.5 304.5 L443 306.98 L443.5 307.83 L444 310.39 L444.5 307.05 L445 310.34 L445.5 302.8 L446 308.75 L446.5 297.2 L447 302 L447.5 293.56 L448 296.82 L448.5 291.66 L449 295.99 L449.5 294.65 L450 297.95 L450.5 295.69 L451 300.04 L451.5 295.4 L452 297.93 L452.5 294.9 L453 299.22 L453.5 295.26 L454 298.15 L454.5 295.42 L455 298.82 L455.5 297.27 L456 301.23 L456.5 297.47 L457 300.39 L457.5 299.59 L458 301.88 L458.5 301.19 L459 305.04 L459.5 302.52 L460 304.39 L460.5 299.1 L461 303.81 L461.5 300.7 L462 304.69 L462.5 300 L463 304.96 L463.5 298.85 L464 299.12 L464.5 293.26 L465 296.2 L465.5 293.42 L466 295.45 L466.5 292.77 L467 292.25 L467.5 285.89 L468 286.29 L468.5 281.07 L469 286.19 L469.5 280.36 L470 285.92 L470.5 280.87 L471 285.99 L471.5 284.15 L472 289.16 L472.5 287.21 L473 293.37 L473.5 287.03 L474 292.67 L474.5 287.59 L475 292.12 L475.5 287.34 L476 285.53 L476.5 283.15 L477 289.97 L477.5 285.74 L478 288.39 L478.5 284.54 L479 282.84 L479.5 279.33 L480 281.59 L480.5 278.93 L481 283.21 L481.5 279.98 L482 283.74 L482.5 280.65 L483 283.65 L483.5 280.09 L484 287.72 L484.5 285.14 L485 291.93 L485.5 289.23 L486 296.1 L486.5 291.76 L487 296.19 L487.5 292.97 L488 295.75 L488.5 293.51 L489 298.76 L489.5 293.58 L490 301.31 L490.5 297.1 L491 296.74 L491.5 293.86 L492 297.51 L492.5 294.32 L493 297.56 L493.5 294.6 L494 294.59 L494.5 289.65 L495 287.37 L495.5 283.26 L496 287.4 L496.5 282.62 L497 285.16 L497.5 280.48 L498 290.87 L498.5 285.79 L499 289.9 L499.5 286.39 L500 290.75 L500.5 286.41 L501 291.17 L501.5 286.34 L502 291.24 L502.5 286.82 L503 294.33 L503.5 286.42 L504 294.86 L504.5 293 L505 297.04 L505.5 292 L506 296.81 L506.5 292.22 L507 295.87 L507.5 292.18 L508 297.07 L508.5 292.09 L509 296.06 L509.5 292.45 L510 297.83 L510.5 293.17 L511 297.67 L511.5 297.35 L512 300.69 L512.5 296.44 L513 300.73 L513.5 297.32 L514 299.04 L514.5 296.68 L515 299.89 L515.5 295.91 L516 299.35 L516.5 299.74 L517 305.05 L517.5 296.25 L518 301 L518.5 297.41 L519 300.3 L519.5 291.33 L520 297.28 L520.5 293.3 L521 297.62 L521.5 293.22 L522 296.37 L522.5 292.94 L523 297.08 L523.5 293.23 L524 295.99 L524.5 293.16 L525 297.03 L525.5 292.5 L526 294.04 L526.5 287.56 L527 290.59 L527.5 282.58 L528 287.01 L528.5 281.64 L529 278.24 L529.5 283.02 L530 279.53 L530.5 274.41 L531 276.7 L531.5 270.47 L532 276.14 L532.5 272.08 L533 273.96 L533.5 270.15 L534 275.39 L534.5 269.06 L535 274.93 L535.5 270.95 L536 273.15 L536.5 273.84 L537 279.52 L537.5 272 L538 273.04 L538.5 273.82 L539 274.18 L539.5 270.77 L540 278.47 L540.5 275.18 L541 279.21 L541.5 276.02 L542 279.28 L542.5 276.84 L543 281.01 L543.5 277.66 L544 274.84 L544.5 270.31 L545 276.58 L545.5 270.48 L546 275.59 L546.5 273.33 L547 273.58 L547.5 269.77 L548 272.49 L548.5 268.99 L549 273.41 L549.5 268.61 L550 268.25 L550.5 266.13 L551 272.47 L551.5 269.09 L552 270.98 L552.5 267.36 L553 274.63 L553.5 269.67 L554 279.96 L554.5 275.35 L555 279.35 L555.5 276.15 L556 279.11 L556.5 276.07 L557 282.63 L557.5 278.92 L558 282.96 L558.5 280.28 L559 284.78 L559.5 279.25 L560 284.9 L560.5 280.53 L561 285.19 L561.5 282.52 L562 284.82 L562.5 279.36 L563 283.44 L563.5 278.18 L564 282.22 L564.5 279.77 L565 280.55 L565.5 277.35 L566 279.41 L566.5 276.97 L567 280.27 L567.5 276.08 L568 277.68 L568.5 274.75 L569 276.49 L569.5 272.29 L570 277.45 L570.5 272.79 L571 277.12 L571.5 272.8 L572 278.16 L572.5 276.1 L573 281.49 L573.5 277.09 L574 285.62 L574.5 283.88 L575 293.6 L575.5 286.83 L576 293.3 L576.5 286.55 L577 294.68 L577.5 293.16 L578 297.77 L578.5 291.33 L579 297.63 L579.5 292.1 L580 294.39 L580.5 293.27 L581 296.67 L581.5 294.87 L582 296.95 L582.5 294.1 L583 297.82 L583.5 296.33 L584 296.48 L584.5 292.69 L585 294.3 L585.5 290.99 L586 294.71 L586.5 291.45 L587 295.62 L587.5 290.13 L588 294.46 L588.5 290.05 L589 293.67 L589.5 287.85 L590 293.55 L590.5 285.92 L591 289.19 L591.5 285.88 L592 290.12 L592.5 286.1 L593 289.63 L593.5 285.94 L594 289.94 L594.5 286.74 L595 290.21 L595.5 291.3 L596 294.65 L596.5 290.61 L597 293.8 L597.5 287.54 L598 290.75 L598.5 287.39 L599 292.46 L599.5 288.43 L600 291.17 L600.5 289.78 L601 295.16 L601.5 283.42 L602 288.59 L602.5 277.5 L603 281.66 L603.5 276.61 L604 280.85 L604.5 276.18 L605 281.63 L605.5 275.63 L606 278.14 L606.5 277.58 L607 282.61 L607.5 277.68 L608 281.96 L608.5 278.88 L609 280.47 L609.5 276.58 L610 282.81 L610.5 278.38 L611 282.49 L611.5 277.3 L612 282.04 L612.5 277.98 L613 281.16 L613.5 277.91 L614 284.57 L614.5 283.34 L615 291.92 L615.5 287.66 L616 291.47 L616.5 287.38 L617 282.67 L617.5 276.71 L618 281.73 L618.5 274.61 L619 280.06 L619.5 277.57 L620 282.32 L620.5 277.82 L621 282.49 L621.5 280.07 L622 281.69 L622.5 281.24 L623 286.26 L623.5 281.37 L624 286.55 L624.5 278.99 L625 285.17 L625.5 280.41 L626 286.57 L626.5 281.65 L627 288.88 L627.5 283 L628 288.85 L628.5 283.92 L629 292.24 L629.5 287.24 L630 294 L630.5 289.05 L631 294.01 L631.5 291.27 L632 295.92 L632.5 290.41 L633 294.52 L633.5 292.31 L634 295.06 L634.5 291.36 L635 292.33 L635.5 287.65 L636 292.92 L636.5 289.95 L637 289.71 L637.5 285.18 L638 289.45 L638.5 286.04 L639 287.14 L639.5 283.63 L640 285 L640.5 280.99 L641 285.28 L641.5 280.35 L642 284.28 L642.5 282.45 L643 286.49 L643.5 282.5 L644 284.63 L644.5 281.88 L645 291.3 L645.5 287.12 L646 290.25 L646.5 286.64 L647 290.55 L647.5 288.02 L648 293.89 L648.5 288.11 L649 295.73 L649.5 292.85 L650 296.71 L650.5 292.43 L651 297.47 L651.5 291.7 L652 295.51 L652.5 291.57 L653 297.2 L653.5 293.71 L654 293.29 L654.5 286.59 L655 291.25 L655.5 286.8 L656 295 L656.5 290.44 L657 293.92 L657.5 289.5 L658 294.7 L658.5 293.15 L659 294.22 L659.5 289.74 L660 291.55 L660.5 286.78 L661 291.36 L661.5 290.04 L662 293.85 L662.5 288.63 L663 292.07 L663.5 285.12 L664 287.84 L664.5 288.11 L665 292.25 L665.5 285.76 L666 288.31 L666.5 281.92 L667 286.15 L667.5 284.24 L668 287.74 L668.5 283.31 L669 286.67 L669.5 282.7 L670 284.21 L670.5 283.63 L671 288.57 L671.5 281.66 L672 285.62 L672.5 283.14 L673 286.11 L673.5 285.47 L674 289.59 L674.5 283.79 L675 283.44 L675.5 282.02 L676 286.78 L676.5 286.3 L677 288.94 L677.5 282.66 L678 287.08 L678.5 279.92 L679 284.09 L679.5 284.89 L680 286.8" fill="none" stroke="#6a6a6a" stroke-width="0.75" stroke-linejoin="round"/>
<path d="M382.46 301.93 L383.45 299.46 L384.19 306.88 L384.93 289.55 L385.92 292.03 L386.66 272.23 L387.41 268.51 L388.4 274.7 L389.14 294.5 L389.88 284.6 L390.87 296.98 L391.61 294.5 L392.36 287.08 L393.35 298.22 L394.34 284.6 L395.33 282.13 L396.32 289.55 L397.31 296.98 L398.3 301.93 L399.29 304.41 L400.28 300.69 L401.27 296.98 L402.01 311.83 L402.75 304.41 L403.74 301.93 L404.73 306.88 L405.72 304.41 L406.71 308.12 L407.7 301.93 L408.45 292.03 L409.19 279.65 L410.18 299.46 L411.17 306.88 L411.91 289.55 L412.65 287.08 L413.64 272.23 L414.63 294.5 L415.62 289.55 L416.61 294.5 L417.6 287.08 L418.59 296.98 L419.58 289.55 L420.57 294.5 L421.56 287.08 L422.55 296.98 L423.54 277.18 L424.53 306.88 L425.52 326.68 L426.51 289.55 L427.5 299.46 L428.5 277.18 L429.49 287.08 L430.48 282.13 L431.47 294.5 L432.46 314.31 L433.45 329.16 L434.44 304.41 L435.43 284.6 L436.42 289.55 L437.41 294.5 L438.4 301.93 L439.39 287.08 L440.38 311.83 L441.37 316.78 L442.36 309.36 L443.35 301.93 L444.34 282.13 L445.33 294.5 L446.32 314.31 L447.31 311.83 L448.3 309.36 L449.29 296.98 L450.28 289.55 L451.27 292.03 L452.26 277.18 L453.25 294.5 L454.24 299.46 L455.23 306.88 L456.22 299.46 L456.85 296.12 L457.48 294.5 L458.47 304.41 L459.46 300.69 L460.45 304.41 L461.44 301.93 L462.43 303.17 L463.42 305.64 L464.41 311.83 L465.4 294.5 L466.14 249.95 L466.88 282.13 L467.38 264.8 L468.12 294.5 L468.86 282.13 L469.85 274.7 L470.84 294.5 L471.83 287.08 L472.82 264.8 L473.81 292.03 L474.8 314.31 L475.79 294.5 L476.78 282.13 L477.77 299.46 L478.76 266.04 L479.75 267.28 L480.74 279.65 L481.73 294.5 L482.72 279.65 L483.71 272.23 L484.7 284.6 L485.69 319.26 L486.68 294.5 L487.67 287.08 L488.66 299.46 L489.65 296.98 L490.64 304.41 L491.63 294.5 L492.62 277.18 L493.61 301.93 L494.6 314.31 L495.59 289.55 L496.58 274.7 L497.57 269.75 L498.56 279.65 L499.55 272.23 L500.54 296.98 L501.53 287.08 L502.52 304.41 L503.51 294.5 L504.5 289.55 L505.5 296.98 L506.49 282.13 L507.48 304.41 L508.47 287.08 L509.46 309.36 L510.45 294.5 L511.44 282.13 L512.43 314.31 L513.42 294.5 L514.41 304.41 L515.4 292.03 L516.39 301.93 L517.38 309.36 L518.37 294.5 L519.36 319.26 L520.35 294.5 L521.34 301.93 L522.33 284.6 L523.32 269.75 L524.31 274.7 L525.3 292.03 L526.29 301.93 L527.28 326.68 L528.27 294.5 L529.26 301.93 L530.25 274.7 L531.24 267.28 L532.23 277.18 L533.22 272.23 L533.96 272.23 L534.95 264.8 L535.94 259.85 L536.93 277.18 L537.92 269.75 L538.91 282.13 L539.9 292.03 L540.89 277.18 L541.88 287.08 L542.87 267.28 L543.86 259.85 L544.85 279.65 L545.84 264.8 L546.83 296.98 L547.82 269.75 L548.81 267.28 L549.8 309.36 L550.79 282.13 L551.78 272.23 L552.77 262.33 L553.76 254.9 L554.26 251.19 L554.75 264.8 L555.74 279.65 L556.73 292.03 L557.72 282.13 L558.71 277.18 L559.7 294.5 L560.69 284.6 L561.68 289.55 L562.67 282.13 L563.66 279.65 L564.65 277.18 L565.64 287.08 L566.63 274.7 L567.62 279.65 L568.61 274.7 L569.6 272.23 L570.59 268.51 L571.58 287.08 L572.57 272.23 L573.56 268.51 L574.55 296.98 L575.54 282.13 L576.53 296.98 L577.52 309.36 L578.51 316.78 L579.5 294.5 L580.5 289.55 L581.49 279.65 L582.48 296.98 L583.47 289.55 L584.46 277.18 L585.45 296.98 L586.44 326.68 L587.43 306.88 L588.42 299.46 L589.41 284.6 L590.4 269.75 L591.39 277.18 L592.38 296.98 L593.37 284.6 L594.36 282.13 L595.35 289.55 L596.34 316.78 L597.33 294.5 L598.32 289.55 L599.31 301.93 L600.3 306.88 L601.29 277.18 L602.28 274.7 L603.27 282.13 L604.26 272.23 L605.25 311.83 L606.24 277.18 L607.23 272.23 L608.22 279.65 L608.96 279.65 L609.95 284.6 L610.94 267.28 L611.93 294.5 L612.67 316.78 L613.42 289.55 L614.41 274.7 L615.4 269.75 L616.39 268.51 L617.38 279.65 L618.37 306.88 L619.11 315.54 L619.85 294.5 L620.84 274.7 L621.83 269.75 L622.82 284.6 L623.81 277.18 L624.8 279.65 L625.79 294.5 L626.78 277.18 L627.77 284.6 L628.76 292.03 L629.75 304.41 L630.74 287.08 L631.73 294.5 L632.72 287.08 L633.71 294.5 L634.7 292.03 L635.69 305.64 L636.68 294.5 L637.67 289.55 L638.66 284.6 L639.65 277.18 L640.64 282.13 L641.63 268.51 L642.62 274.7 L643.61 284.6 L644.6 282.13 L645.59 294.5 L646.58 301.93 L647.57 306.88 L648.56 316.78 L649.55 299.46 L650.54 274.7 L651.53 282.13 L652.52 287.08 L653.51 294.5 L654.5 296.98 L655.5 294.5 L656.49 284.6 L657.48 296.98 L658.47 289.55 L659.46 282.13 L660.45 299.46 L661.44 292.03 L662.43 279.65 L663.42 294.5 L664.41 289.55 L665.4 279.65 L666.39 296.98 L667.38 284.6 L668.37 282.13 L669.36 296.98 L670.35 279.65 L671.34 275.94 L672.33 301.93 L673.32 287.08 L674.31 279.65 L675.3 296.98 L676.29 282.13 L677.28 294.5 L678.27 289.55 L679.26 279.65 L680 266.04" fill="none" stroke="#000" stroke-opacity="0.1" stroke-width="2.0" stroke-linejoin="round"/>
<path d="M382.46 301.93 L383.45 299.46 L384.19 306.88 L384.93 289.55 L385.92 292.03 L386.66 272.23 L387.41 268.51 L388.4 274.7 L389.14 294.5 L389.88 284.6 L390.87 296.98 L391.61 294.5 L392.36 287.08 L393.35 298.22 L394.34 284.6 L395.33 282.13 L396.32 289.55 L397.31 296.98 L398.3 301.93 L399.29 304.41 L400.28 300.69 L401.27 296.98 L402.01 311.83 L402.75 304.41 L403.74 301.93 L404.73 306.88 L405.72 304.41 L406.71 308.12 L407.7 301.93 L408.45 292.03 L409.19 279.65 L410.18 299.46 L411.17 306.88 L411.91 289.55 L412.65 287.08 L413.64 272.23 L414.63 294.5 L415.62 289.55 L416.61 294.5 L417.6 287.08 L418.59 296.98 L419.58 289.55 L420.57 294.5 L421.56 287.08 L422.55 296.98 L423.54 277.18 L424.53 306.88 L425.52 326.68 L426.51 289.55 L427.5 299.46 L428.5 277.18 L429.49 287.08 L430.48 282.13 L431.47 294.5 L432.46 314.31 L433.45 329.16 L434.44 304.41 L435.43 284.6 L436.42 289.55 L437.41 294.5 L438.4 301.93 L439.39 287.08 L440.38 311.83 L441.37 316.78 L442.36 309.36 L443.35 301.93 L444.34 282.13 L445.33 294.5 L446.32 314.31 L447.31 311.83 L448.3 309.36 L449.29 296.98 L450.28 289.55 L451.27 292.03 L452.26 277.18 L453.25 294.5 L454.24 299.46 L455.23 306.88 L456.22 299.46 L456.85 296.12 L457.48 294.5 L458.47 304.41 L459.46 300.69 L460.45 304.41 L461.44 301.93 L462.43 303.17 L463.42 305.64 L464.41 311.83 L465.4 294.5 L466.14 249.95 L466.88 282.13 L467.38 264.8 L468.12 294.5 L468.86 282.13 L469.85 274.7 L470.84 294.5 L471.83 287.08 L472.82 264.8 L473.81 292.03 L474.8 314.31 L475.79 294.5 L476.78 282.13 L477.77 299.46 L478.76 266.04 L479.75 267.28 L480.74 279.65 L481.73 294.5 L482.72 279.65 L483.71 272.23 L484.7 284.6 L485.69 319.26 L486.68 294.5 L487.67 287.08 L488.66 299.46 L489.65 296.98 L490.64 304.41 L491.63 294.5 L492.62 277.18 L493.61 301.93 L494.6 314.31 L495.59 289.55 L496.58 274.7 L497.57 269.75 L498.56 279.65 L499.55 272.23 L500.54 296.98 L501.53 287.08 L502.52 304.41 L503.51 294.5 L504.5 289.55 L505.5 296.98 L506.49 282.13 L507.48 304.41 L508.47 287.08 L509.46 309.36 L510.45 294.5 L511.44 282.13 L512.43 314.31 L513.42 294.5 L514.41 304.41 L515.4 292.03 L516.39 301.93 L517.38 309.36 L518.37 294.5 L519.36 319.26 L520.35 294.5 L521.34 301.93 L522.33 284.6 L523.32 269.75 L524.31 274.7 L525.3 292.03 L526.29 301.93 L527.28 326.68 L528.27 294.5 L529.26 301.93 L530.25 274.7 L531.24 267.28 L532.23 277.18 L533.22 272.23 L533.96 272.23 L534.95 264.8 L535.94 259.85 L536.93 277.18 L537.92 269.75 L538.91 282.13 L539.9 292.03 L540.89 277.18 L541.88 287.08 L542.87 267.28 L543.86 259.85 L544.85 279.65 L545.84 264.8 L546.83 296.98 L547.82 269.75 L548.81 267.28 L549.8 309.36 L550.79 282.13 L551.78 272.23 L552.77 262.33 L553.76 254.9 L554.26 251.19 L554.75 264.8 L555.74 279.65 L556.73 292.03 L557.72 282.13 L558.71 277.18 L559.7 294.5 L560.69 284.6 L561.68 289.55 L562.67 282.13 L563.66 279.65 L564.65 277.18 L565.64 287.08 L566.63 274.7 L567.62 279.65 L568.61 274.7 L569.6 272.23 L570.59 268.51 L571.58 287.08 L572.57 272.23 L573.56 268.51 L574.55 296.98 L575.54 282.13 L576.53 296.98 L577.52 309.36 L578.51 316.78 L579.5 294.5 L580.5 289.55 L581.49 279.65 L582.48 296.98 L583.47 289.55 L584.46 277.18 L585.45 296.98 L586.44 326.68 L587.43 306.88 L588.42 299.46 L589.41 284.6 L590.4 269.75 L591.39 277.18 L592.38 296.98 L593.37 284.6 L594.36 282.13 L595.35 289.55 L596.34 316.78 L597.33 294.5 L598.32 289.55 L599.31 301.93 L600.3 306.88 L601.29 277.18 L602.28 274.7 L603.27 282.13 L604.26 272.23 L605.25 311.83 L606.24 277.18 L607.23 272.23 L608.22 279.65 L608.96 279.65 L609.95 284.6 L610.94 267.28 L611.93 294.5 L612.67 316.78 L613.42 289.55 L614.41 274.7 L615.4 269.75 L616.39 268.51 L617.38 279.65 L618.37 306.88 L619.11 315.54 L619.85 294.5 L620.84 274.7 L621.83 269.75 L622.82 284.6 L623.81 277.18 L624.8 279.65 L625.79 294.5 L626.78 277.18 L627.77 284.6 L628.76 292.03 L629.75 304.41 L630.74 287.08 L631.73 294.5 L632.72 287.08 L633.71 294.5 L634.7 292.03 L635.69 305.64 L636.68 294.5 L637.67 289.55 L638.66 284.6 L639.65 277.18 L640.64 282.13 L641.63 268.51 L642.62 274.7 L643.61 284.6 L644.6 282.13 L645.59 294.5 L646.58 301.93 L647.57 306.88 L648.56 316.78 L649.55 299.46 L650.54 274.7 L651.53 282.13 L652.52 287.08 L653.51 294.5 L654.5 296.98 L655.5 294.5 L656.49 284.6 L657.48 296.98 L658.47 289.55 L659.46 282.13 L660.45 299.46 L661.44 292.03 L662.43 279.65 L663.42 294.5 L664.41 289.55 L665.4 279.65 L666.39 296.98 L667.38 284.6 L668.37 282.13 L669.36 296.98 L670.35 279.65 L671.34 275.94 L672.33 301.93 L673.32 287.08 L674.31 279.65 L675.3 296.98 L676.29 282.13 L677.28 294.5 L678.27 289.55 L679.26 279.65 L680 266.04" fill="none" stroke="#333" stroke-width="0.8" stroke-linejoin="round"/>
<line x1="379.2" y1="248.7" x2="379.2" y2="332.4" stroke="#666" stroke-width="1.1"/>
<line x1="378.7" y1="332.4" x2="683" y2="332.4" stroke="#666" stroke-width="1.1"/>
<line x1="382.4" y1="332.4" x2="382.4" y2="334.4" stroke="#666" stroke-width="1"/>
<text x="382.4" y="346.7" text-anchor="middle" font-size="9.4">0</text>
<line x1="441.78" y1="332.4" x2="441.78" y2="334.4" stroke="#666" stroke-width="1"/>
<text x="441.78" y="346.7" text-anchor="middle" font-size="9.4">10</text>
<line x1="501.16" y1="332.4" x2="501.16" y2="334.4" stroke="#666" stroke-width="1"/>
<text x="501.16" y="346.7" text-anchor="middle" font-size="9.4">20</text>
<line x1="560.54" y1="332.4" x2="560.54" y2="334.4" stroke="#666" stroke-width="1"/>
<text x="560.54" y="346.7" text-anchor="middle" font-size="9.4">30</text>
<line x1="619.92" y1="332.4" x2="619.92" y2="334.4" stroke="#666" stroke-width="1"/>
<text x="619.92" y="346.7" text-anchor="middle" font-size="9.4">40</text>
<line x1="679.3" y1="332.4" x2="679.3" y2="334.4" stroke="#666" stroke-width="1"/>
<text x="679.3" y="346.7" text-anchor="middle" font-size="9.4">50</text>
<text x="373.7" y="255.5" text-anchor="end" font-size="10.2">4</text>
<text x="373.7" y="273.8" text-anchor="end" font-size="10.2">2</text>
<text x="373.7" y="292.8" text-anchor="end" font-size="10.2">0</text>
<text x="373.7" y="310.7" text-anchor="end" font-size="10.2">-2</text>
<text x="373.7" y="329.3" text-anchor="end" font-size="10.2">-4</text>
<text x="533.1" y="361.2" text-anchor="middle" font-size="11.8">Distance(km)</text>
<text transform="translate(360,285.8) rotate(-90)" text-anchor="middle" font-size="9.9">Coseismic slip (m)</text>
<text x="378.1" y="245.8" font-size="9.4">P6</text>
<text x="670.6" y="245.3" font-size="9.4">P6</text>
<line x1="682" y1="240" x2="682.8" y2="238.4" stroke="#333" stroke-width="0.8"/>
<line x1="133.4" y1="74.9" x2="181.1" y2="74.9" stroke="#e8303a" stroke-width="2.4"/>
<line x1="184.5" y1="24.9" x2="218.8" y2="29.9" stroke="#e8303a" stroke-width="2.4"/>
<line x1="141" y1="179.4" x2="182.6" y2="187.1" stroke="#e8303a" stroke-width="2.4"/>
<line x1="184.6" y1="162.8" x2="225.8" y2="168.3" stroke="#e8303a" stroke-width="2.4"/>
<line x1="145.4" y1="309.6" x2="192.1" y2="309.9" stroke="#e8303a" stroke-width="2.4"/>
<line x1="192.1" y1="278.8" x2="238.9" y2="279.2" stroke="#e8303a" stroke-width="2.4"/>
<line x1="489.7" y1="59.9" x2="536.8" y2="60.4" stroke="#e8303a" stroke-width="2.4"/>
<line x1="536.3" y1="25.2" x2="583.2" y2="25.5" stroke="#e8303a" stroke-width="2.4"/>
<line x1="508" y1="171" x2="538.3" y2="182.4" stroke="#e8303a" stroke-width="2.4"/>
<line x1="536" y1="149.5" x2="583.2" y2="150" stroke="#e8303a" stroke-width="2.4"/>
<line x1="498" y1="302.7" x2="525.4" y2="306.8" stroke="#e8303a" stroke-width="2.4"/>
<line x1="530.2" y1="279.8" x2="577.4" y2="280.1" stroke="#e8303a" stroke-width="2.4"/>
<text x="149.1" y="46.8" font-size="14.6" fill="#e8303a" textLength="31.4" lengthAdjust="spacingAndGlyphs">5.8 m</text>
<text x="151.5" y="162.2" font-size="14.6" fill="#e8303a" textLength="31.4" lengthAdjust="spacingAndGlyphs">2.2 m</text>
<text x="157.5" y="296.4" font-size="14.6" fill="#e8303a" textLength="31.4" lengthAdjust="spacingAndGlyphs">2.9 m</text>
<text x="495" y="46.1" font-size="14.6" fill="#e8303a" textLength="31.4" lengthAdjust="spacingAndGlyphs">4.1 m</text>
<text x="500.5" y="139.6" font-size="14.6" fill="#e8303a" textLength="31.4" lengthAdjust="spacingAndGlyphs">3.5 m</text>
<text x="495.6" y="268.8" font-size="14.6" fill="#e8303a" textLength="31.4" lengthAdjust="spacingAndGlyphs">3.1 m</text>
</g></svg>
</body></html>
